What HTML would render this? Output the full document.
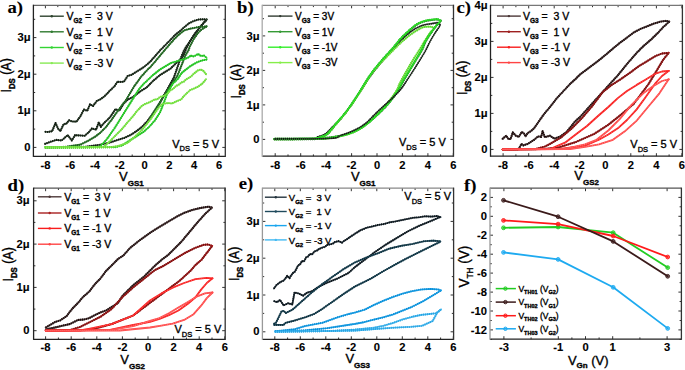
<!DOCTYPE html><html><head><meta charset="utf-8"><style>html,body{margin:0;padding:0;background:#fff;}svg{display:block;}</style></head><body>
<svg width="685" height="370" viewBox="0 0 685 370">
<style>text{stroke:#000;stroke-width:0.35px;} text[font-weight=bold]{stroke-width:0.1px;}</style>
<rect width="685" height="370" fill="#fff"/>
<path d="M45 131.8 L48 132 L52.2 131.1 L55.5 123 L58 128.5 L60.3 131.1 L63.6 124.3 L66.4 123.6 L69 120.3 L72 121.5 L76.5 121.6 L80.5 116.2 L83.9 109.5 L87.3 110.8 L90 104.3 L93 106 L96.8 101 L100 99.5 L103 97.5 L106.2 94.6 L110 90.5 L114.3 86.5 L117.5 81.6 L120 82 L124 81.6 L127.6 76.1 L131.6 74.7 L137 71.4 L144 67 L150 61.9 L160 50.5 L170.3 40 L175 35 L179.7 31.3 L184.5 27 L189.2 23.2 L193.9 20.9 L198.6 19.5 L203.4 19.2 L206.8 19.5" fill="none" stroke="#2e432e" stroke-width="1.6" stroke-linejoin="round" stroke-linecap="round" />
<path d="M45 131.8 L48 132 L52.2 131.1 L55.5 123 L58 128.5 L60.3 131.1 L63.6 124.3 L66.4 123.6 L69 120.3 L72 121.5 L76.5 121.6 L80.5 116.2 L83.9 109.5 L87.3 110.8 L90 104.3 L93 106 L96.8 101 L100 99.5 L103 97.5 L106.2 94.6 L110 90.5 L114.3 86.5 L117.5 81.6 L120 82 L124 81.6 L127.6 76.1 L131.6 74.7 L137 71.4 L144 67 L150 61.9 L160 50.5 L170.3 40 L175 35 L179.7 31.3 L184.5 27 L189.2 23.2 L193.9 20.9 L198.6 19.5 L203.4 19.2 L206.8 19.5" fill="none" stroke="#0c140c" stroke-width="2.1" stroke-dasharray="0.9 1.1" stroke-linejoin="round" />
<path d="M44.7 143.9 L50.1 141.9 L56.2 139.9 L61.6 140.5 L67.7 135.1 L71.8 140.5 L75.1 135.1 L84.6 135.8 L88.6 132.4 L92 128.4 L96.1 129.7 L98.8 122.3 L100.8 126.9 L104 123 L110 117.3 L115.4 109.2 L119.5 110.5 L123.5 103.8 L127.6 99.7 L133 97 L140 91.5 L146.5 87.6 L153.2 80.8 L160 75 L165 72 L170.8 68.4 L176.2 63 L181.6 58.6 L183.5 55.5 L186 49 L190.5 40.4 L196 32.3 L201.4 25.5 L206.8 19.4" fill="none" stroke="#2e432e" stroke-width="1.6" stroke-linejoin="round" stroke-linecap="round" />
<path d="M44.7 143.9 L50.1 141.9 L56.2 139.9 L61.6 140.5 L67.7 135.1 L71.8 140.5 L75.1 135.1 L84.6 135.8 L88.6 132.4 L92 128.4 L96.1 129.7 L98.8 122.3 L100.8 126.9 L104 123 L110 117.3 L115.4 109.2 L119.5 110.5 L123.5 103.8 L127.6 99.7 L133 97 L140 91.5 L146.5 87.6 L153.2 80.8 L160 75 L165 72 L170.8 68.4 L176.2 63 L181.6 58.6 L183.5 55.5 L186 49 L190.5 40.4 L196 32.3 L201.4 25.5 L206.8 19.4" fill="none" stroke="#0c140c" stroke-width="2.1" stroke-dasharray="0.9 1.1" stroke-linejoin="round" />
<path d="M45 147.4 L85 146.8 L100 144.8 L110 142.5 L117.5 140 L124 138 L130.5 135.1 L136 131.5 L141.9 127 L147 121.5 L151.6 115.6 L156 109 L160 102.7 L163.5 96 L167.6 89 L174.1 77 L178.9 63 L183.2 52.2 L186 47 L190.5 40.4 L196 32.3 L201.4 25.5 L206.8 19.4" fill="none" stroke="#2e432e" stroke-width="1.6" stroke-linejoin="round" stroke-linecap="round" />
<path d="M45 147.4 L85 146.8 L100 144.8 L110 142.5 L117.5 140 L124 138 L130.5 135.1 L136 131.5 L141.9 127 L147 121.5 L151.6 115.6 L156 109 L160 102.7 L163.5 96 L167.6 89 L174.1 77 L178.9 63 L183.2 52.2 L186 47 L190.5 40.4 L196 32.3 L201.4 25.5 L206.8 19.4" fill="none" stroke="#0c140c" stroke-width="2.1" stroke-dasharray="0.9 1.1" stroke-linejoin="round" />
<path d="M45 147.4 L60 147.2 L67 146.6 L80.5 144.6 L88.6 140.5 L95.4 136.5 L100 133 L106 127 L111.4 120 L118.1 110.5 L126.2 99.7 L134.3 86.2 L141.1 76.8 L147.2 70 L150 67.4 L156 60.5 L163.5 51.5 L170 44 L175 38.3 L179.7 33.8 L184.5 30.3 L189.2 28.9 L193.9 28 L198.6 27 L203.4 26.8 L206.8 26.4" fill="none" stroke="#2f7a2f" stroke-width="1.6" stroke-linejoin="round" stroke-linecap="round" />
<path d="M45 147.4 L60 147.2 L67 146.6 L80.5 144.6 L88.6 140.5 L95.4 136.5 L100 133 L106 127 L111.4 120 L118.1 110.5 L126.2 99.7 L134.3 86.2 L141.1 76.8 L147.2 70 L150 67.4 L156 60.5 L163.5 51.5 L170 44 L175 38.3 L179.7 33.8 L184.5 30.3 L189.2 28.9 L193.9 28 L198.6 27 L203.4 26.8 L206.8 26.4" fill="none" stroke="#1a561a" stroke-width="2.1" stroke-dasharray="0.9 1.1" stroke-linejoin="round" />
<path d="M150 118 L158.9 104 L164 96 L167.6 90.5 L170.8 85.7 L177.3 76 L181.6 65.1 L185.4 55.4 L188.6 50 L189.8 46.5 L194 38.5 L198 33 L201.4 29.6 L206.8 26.2" fill="none" stroke="#2f7a2f" stroke-width="1.6" stroke-linejoin="round" stroke-linecap="round" />
<path d="M150 118 L158.9 104 L164 96 L167.6 90.5 L170.8 85.7 L177.3 76 L181.6 65.1 L185.4 55.4 L188.6 50 L189.8 46.5 L194 38.5 L198 33 L201.4 29.6 L206.8 26.2" fill="none" stroke="#1a561a" stroke-width="2.1" stroke-dasharray="0.9 1.1" stroke-linejoin="round" />
<path d="M45 147.4 L96 147.2 L100 146.5 L106.2 140 L114.3 128.6 L122.4 115.6 L130.5 102.7 L138.6 89.7 L143 84.5 L148.3 79.5 L153 75 L160 69.5 L170.8 63 L176 61.5 L181.6 59.7 L185 59 L188.1 57.6 L191 55.5 L193 56.5 L195.7 55.4 L198 54 L201 56 L204 55.5 L206.8 58" fill="none" stroke="#33d433" stroke-width="1.6" stroke-linejoin="round" stroke-linecap="round" />
<path d="M45 147.4 L96 147.2 L100 146.5 L106.2 140 L114.3 128.6 L122.4 115.6 L130.5 102.7 L138.6 89.7 L143 84.5 L148.3 79.5 L153 75 L160 69.5 L170.8 63 L176 61.5 L181.6 59.7 L185 59 L188.1 57.6 L191 55.5 L193 56.5 L195.7 55.4 L198 54 L201 56 L204 55.5 L206.8 58" fill="none" stroke="#1fb81f" stroke-width="2.1" stroke-dasharray="0.9 1.1" stroke-linejoin="round" />
<path d="M45 147.4 L115 147.2 L122 145.5 L130.5 140 L137 136 L143.5 131.9 L149 127 L154.8 120.5 L160 112.4 L163 105 L165.6 98 L168 91.5 L173 83.5 L177.8 79 L181.6 73 L186 69.5 L190.3 66.2 L194 64 L197.8 61.9 L202 60.5 L206.8 59.5" fill="none" stroke="#33d433" stroke-width="1.6" stroke-linejoin="round" stroke-linecap="round" />
<path d="M45 147.4 L115 147.2 L122 145.5 L130.5 140 L137 136 L143.5 131.9 L149 127 L154.8 120.5 L160 112.4 L163 105 L165.6 98 L168 91.5 L173 83.5 L177.8 79 L181.6 73 L186 69.5 L190.3 66.2 L194 64 L197.8 61.9 L202 60.5 L206.8 59.5" fill="none" stroke="#1fb81f" stroke-width="2.1" stroke-dasharray="0.9 1.1" stroke-linejoin="round" />
<path d="M45 147.4 L100 147.3 L104 146.8 L111.1 140 L116 135 L122.4 128.6 L127 123 L132.1 117.3 L137 111 L141.9 105.9 L145 104 L148.3 102.7 L151 101.5 L154.8 99.4 L157 99.5 L160 97 L164.9 95.5 L168 93 L170.8 90 L173 89 L176 86 L179 84.5 L181.6 82.4 L184 81.5 L186 79.5 L190.3 77 L192 75.5 L194 73.5 L197.8 70.5 L200.9 69.5 L203.5 71 L206.2 74.5" fill="none" stroke="#88ea55" stroke-width="1.6" stroke-linejoin="round" stroke-linecap="round" />
<path d="M45 147.4 L100 147.3 L104 146.8 L111.1 140 L116 135 L122.4 128.6 L127 123 L132.1 117.3 L137 111 L141.9 105.9 L145 104 L148.3 102.7 L151 101.5 L154.8 99.4 L157 99.5 L160 97 L164.9 95.5 L168 93 L170.8 90 L173 89 L176 86 L179 84.5 L181.6 82.4 L184 81.5 L186 79.5 L190.3 77 L192 75.5 L194 73.5 L197.8 70.5 L200.9 69.5 L203.5 71 L206.2 74.5" fill="none" stroke="#66d633" stroke-width="2.1" stroke-dasharray="0.9 1.1" stroke-linejoin="round" />
<path d="M45 147.4 L110 147.3 L118 146 L127.5 143 L135 136.5 L141.9 130 L150 120 L158.9 107.3 L162 104 L168 103 L172 103.5 L177.8 100.7 L181 99.5 L184 96 L187 93 L190.3 90 L194 88.5 L197.8 86.8 L202.4 83.5 L206.2 79" fill="none" stroke="#88ea55" stroke-width="1.6" stroke-linejoin="round" stroke-linecap="round" />
<path d="M45 147.4 L110 147.3 L118 146 L127.5 143 L135 136.5 L141.9 130 L150 120 L158.9 107.3 L162 104 L168 103 L172 103.5 L177.8 100.7 L181 99.5 L184 96 L187 93 L190.3 90 L194 88.5 L197.8 86.8 L202.4 83.5 L206.2 79" fill="none" stroke="#66d633" stroke-width="2.1" stroke-dasharray="0.9 1.1" stroke-linejoin="round" />
<line x1="45.4" y1="156.3" x2="45.4" y2="153.3" stroke="#333" stroke-width="1"/>
<line x1="45.4" y1="5.3" x2="45.4" y2="8.3" stroke="#333" stroke-width="1"/>
<line x1="70.2" y1="156.3" x2="70.2" y2="153.3" stroke="#333" stroke-width="1"/>
<line x1="70.2" y1="5.3" x2="70.2" y2="8.3" stroke="#333" stroke-width="1"/>
<line x1="95" y1="156.3" x2="95" y2="153.3" stroke="#333" stroke-width="1"/>
<line x1="95" y1="5.3" x2="95" y2="8.3" stroke="#333" stroke-width="1"/>
<line x1="119.8" y1="156.3" x2="119.8" y2="153.3" stroke="#333" stroke-width="1"/>
<line x1="119.8" y1="5.3" x2="119.8" y2="8.3" stroke="#333" stroke-width="1"/>
<line x1="144.6" y1="156.3" x2="144.6" y2="153.3" stroke="#333" stroke-width="1"/>
<line x1="144.6" y1="5.3" x2="144.6" y2="8.3" stroke="#333" stroke-width="1"/>
<line x1="169.4" y1="156.3" x2="169.4" y2="153.3" stroke="#333" stroke-width="1"/>
<line x1="169.4" y1="5.3" x2="169.4" y2="8.3" stroke="#333" stroke-width="1"/>
<line x1="194.2" y1="156.3" x2="194.2" y2="153.3" stroke="#333" stroke-width="1"/>
<line x1="194.2" y1="5.3" x2="194.2" y2="8.3" stroke="#333" stroke-width="1"/>
<line x1="219" y1="156.3" x2="219" y2="153.3" stroke="#333" stroke-width="1"/>
<line x1="219" y1="5.3" x2="219" y2="8.3" stroke="#333" stroke-width="1"/>
<line x1="57.8" y1="156.3" x2="57.8" y2="154.5" stroke="#333" stroke-width="1"/>
<line x1="57.8" y1="5.3" x2="57.8" y2="7.1" stroke="#333" stroke-width="1"/>
<line x1="82.6" y1="156.3" x2="82.6" y2="154.5" stroke="#333" stroke-width="1"/>
<line x1="82.6" y1="5.3" x2="82.6" y2="7.1" stroke="#333" stroke-width="1"/>
<line x1="107.4" y1="156.3" x2="107.4" y2="154.5" stroke="#333" stroke-width="1"/>
<line x1="107.4" y1="5.3" x2="107.4" y2="7.1" stroke="#333" stroke-width="1"/>
<line x1="132.2" y1="156.3" x2="132.2" y2="154.5" stroke="#333" stroke-width="1"/>
<line x1="132.2" y1="5.3" x2="132.2" y2="7.1" stroke="#333" stroke-width="1"/>
<line x1="157" y1="156.3" x2="157" y2="154.5" stroke="#333" stroke-width="1"/>
<line x1="157" y1="5.3" x2="157" y2="7.1" stroke="#333" stroke-width="1"/>
<line x1="181.8" y1="156.3" x2="181.8" y2="154.5" stroke="#333" stroke-width="1"/>
<line x1="181.8" y1="5.3" x2="181.8" y2="7.1" stroke="#333" stroke-width="1"/>
<line x1="206.6" y1="156.3" x2="206.6" y2="154.5" stroke="#333" stroke-width="1"/>
<line x1="206.6" y1="5.3" x2="206.6" y2="7.1" stroke="#333" stroke-width="1"/>
<line x1="33.4" y1="147.4" x2="36.4" y2="147.4" stroke="#333" stroke-width="1"/>
<line x1="225.3" y1="147.4" x2="222.3" y2="147.4" stroke="#333" stroke-width="1"/>
<line x1="33.4" y1="110.8" x2="36.4" y2="110.8" stroke="#333" stroke-width="1"/>
<line x1="225.3" y1="110.8" x2="222.3" y2="110.8" stroke="#333" stroke-width="1"/>
<line x1="33.4" y1="74.2" x2="36.4" y2="74.2" stroke="#333" stroke-width="1"/>
<line x1="225.3" y1="74.2" x2="222.3" y2="74.2" stroke="#333" stroke-width="1"/>
<line x1="33.4" y1="37.6" x2="36.4" y2="37.6" stroke="#333" stroke-width="1"/>
<line x1="225.3" y1="37.6" x2="222.3" y2="37.6" stroke="#333" stroke-width="1"/>
<line x1="33.4" y1="129.1" x2="35.2" y2="129.1" stroke="#333" stroke-width="1"/>
<line x1="225.3" y1="129.1" x2="223.5" y2="129.1" stroke="#333" stroke-width="1"/>
<line x1="33.4" y1="92.5" x2="35.2" y2="92.5" stroke="#333" stroke-width="1"/>
<line x1="225.3" y1="92.5" x2="223.5" y2="92.5" stroke="#333" stroke-width="1"/>
<line x1="33.4" y1="55.9" x2="35.2" y2="55.9" stroke="#333" stroke-width="1"/>
<line x1="225.3" y1="55.9" x2="223.5" y2="55.9" stroke="#333" stroke-width="1"/>
<line x1="33.4" y1="19.3" x2="35.2" y2="19.3" stroke="#333" stroke-width="1"/>
<line x1="225.3" y1="19.3" x2="223.5" y2="19.3" stroke="#333" stroke-width="1"/>
<line x1="33.4" y1="5.3" x2="225.3" y2="5.3" stroke="#666" stroke-width="1.3"/>
<line x1="33.4" y1="156.3" x2="225.3" y2="156.3" stroke="#222" stroke-width="1.3"/>
<line x1="33.4" y1="4.7" x2="33.4" y2="156.9" stroke="#222" stroke-width="1.3"/>
<line x1="225.3" y1="4.7" x2="225.3" y2="156.9" stroke="#333" stroke-width="1.3"/>
<g transform="translate(45.4,168.6) scale(1.12,1)">
<text x="0" y="0" font-family='"Liberation Sans", sans-serif' font-size="10" font-weight="bold" text-anchor="middle" fill="#000" >-8</text>
</g>
<g transform="translate(70.2,168.6) scale(1.12,1)">
<text x="0" y="0" font-family='"Liberation Sans", sans-serif' font-size="10" font-weight="bold" text-anchor="middle" fill="#000" >-6</text>
</g>
<g transform="translate(95,168.6) scale(1.12,1)">
<text x="0" y="0" font-family='"Liberation Sans", sans-serif' font-size="10" font-weight="bold" text-anchor="middle" fill="#000" >-4</text>
</g>
<g transform="translate(119.8,168.6) scale(1.12,1)">
<text x="0" y="0" font-family='"Liberation Sans", sans-serif' font-size="10" font-weight="bold" text-anchor="middle" fill="#000" >-2</text>
</g>
<g transform="translate(144.6,168.6) scale(1.12,1)">
<text x="0" y="0" font-family='"Liberation Sans", sans-serif' font-size="10" font-weight="bold" text-anchor="middle" fill="#000" >0</text>
</g>
<g transform="translate(169.4,168.6) scale(1.12,1)">
<text x="0" y="0" font-family='"Liberation Sans", sans-serif' font-size="10" font-weight="bold" text-anchor="middle" fill="#000" >2</text>
</g>
<g transform="translate(194.2,168.6) scale(1.12,1)">
<text x="0" y="0" font-family='"Liberation Sans", sans-serif' font-size="10" font-weight="bold" text-anchor="middle" fill="#000" >4</text>
</g>
<g transform="translate(219,168.6) scale(1.12,1)">
<text x="0" y="0" font-family='"Liberation Sans", sans-serif' font-size="10" font-weight="bold" text-anchor="middle" fill="#000" >6</text>
</g>
<g transform="translate(30.6,151) scale(1.12,1)">
<text x="0" y="0" font-family='"Liberation Sans", sans-serif' font-size="10" font-weight="bold" text-anchor="end" fill="#000" >0</text>
</g>
<g transform="translate(30.6,114.4) scale(1.12,1)">
<text x="0" y="0" font-family='"Liberation Sans", sans-serif' font-size="10" font-weight="bold" text-anchor="end" fill="#000" >1&#956;</text>
</g>
<g transform="translate(30.6,77.8) scale(1.12,1)">
<text x="0" y="0" font-family='"Liberation Sans", sans-serif' font-size="10" font-weight="bold" text-anchor="end" fill="#000" >2&#956;</text>
</g>
<g transform="translate(30.6,41.2) scale(1.12,1)">
<text x="0" y="0" font-family='"Liberation Sans", sans-serif' font-size="10" font-weight="bold" text-anchor="end" fill="#000" >3&#956;</text>
</g>
<line x1="39.8" y1="16.2" x2="63.8" y2="16.2" stroke="#2e432e" stroke-width="1.4"/>
<circle cx="51.8" cy="16.2" r="1.2" fill="#2e432e"/>
<text x="66.4" y="20" font-family='"Liberation Sans", sans-serif' font-size="10.5" xml:space="preserve">V<tspan font-size="6.5" font-weight="bold" dy="3">G2</tspan><tspan dy="-3"> =  3 V</tspan></text>
<line x1="39.8" y1="31.8" x2="63.8" y2="31.8" stroke="#2f7a2f" stroke-width="1.4"/>
<circle cx="51.8" cy="31.8" r="1.2" fill="#2f7a2f"/>
<text x="66.4" y="35.6" font-family='"Liberation Sans", sans-serif' font-size="10.5" xml:space="preserve">V<tspan font-size="6.5" font-weight="bold" dy="3">G2</tspan><tspan dy="-3"> =  1 V</tspan></text>
<line x1="39.8" y1="47.5" x2="63.8" y2="47.5" stroke="#33d433" stroke-width="1.4"/>
<circle cx="51.8" cy="47.5" r="1.2" fill="#33d433"/>
<text x="66.4" y="51.3" font-family='"Liberation Sans", sans-serif' font-size="10.5" xml:space="preserve">V<tspan font-size="6.5" font-weight="bold" dy="3">G2</tspan><tspan dy="-3"> = -1 V</tspan></text>
<line x1="39.8" y1="63.1" x2="63.8" y2="63.1" stroke="#88ea55" stroke-width="1.4"/>
<circle cx="51.8" cy="63.1" r="1.2" fill="#88ea55"/>
<text x="66.4" y="66.9" font-family='"Liberation Sans", sans-serif' font-size="10.5" xml:space="preserve">V<tspan font-size="6.5" font-weight="bold" dy="3">G2</tspan><tspan dy="-3"> = -3 V</tspan></text>
<text x="172.2" y="147.6" font-family='"Liberation Sans", sans-serif' font-size="11" xml:space="preserve">V<tspan font-size="7.5" dy="3.8">DS</tspan><tspan dy="-3.8"> = 5 V</tspan></text>
<text x="119" y="180.7" font-family='"Liberation Sans", sans-serif' font-size="13">V<tspan font-size="8" font-weight="bold" dy="5">GS1</tspan></text>
<g transform="translate(10.8,92.5) rotate(-90) scale(1,1.15)">
<text x="0" y="0" font-family='"Liberation Sans", sans-serif' font-size="12.5">I<tspan font-size="7.75" font-weight="bold" dy="3.3">DS</tspan><tspan dy="-3.3" xml:space="preserve"> (A)</tspan></text>
</g>
<g transform="translate(7.5,12.8) scale(1.1,1)">
<text x="0" y="0" font-family='"Liberation Serif", serif' font-size="17" font-weight="bold" text-anchor="start" fill="#000" >a)</text>
</g>
<path d="M274 139 C280.3 139 304.7 139.2 312 138.8 C319.3 138.5 315.5 137.8 317.8 136.9 C320.1 136 323.5 135.2 325.9 133.6 C328.3 132 330 129.5 332.4 127.1 C334.8 124.7 338.2 121.5 340.5 119 C342.8 116.5 343.8 114.9 346 112 C348.2 109.1 350.8 105.8 353.5 101.8 C356.2 97.8 359.5 92.5 362.5 88 C365.5 83.5 368.3 78.8 371.5 74.5 C374.7 70.2 378.1 66.1 381.6 62 C385.1 57.9 389.3 53.5 392.4 50 C395.5 46.5 396.9 44.4 400 41.3 C403.1 38.2 407.2 34.2 410.8 31.6 C414.4 29 418 27.1 421.6 25.7 C425.2 24.3 429.7 24 432.4 23.5 C435.1 23 436.5 22.6 437.8 22.8 C439.1 23 439.6 24.2 440 24.5" fill="none" stroke="#333d33" stroke-width="1.4" stroke-linejoin="round" stroke-linecap="round" />
<path d="M274 139 C280.3 139 304.7 139.2 312 138.8 C319.3 138.5 315.5 137.8 317.8 136.9 C320.1 136 323.5 135.2 325.9 133.6 C328.3 132 330 129.5 332.4 127.1 C334.8 124.7 338.2 121.5 340.5 119 C342.8 116.5 343.8 114.9 346 112 C348.2 109.1 350.8 105.8 353.5 101.8 C356.2 97.8 359.5 92.5 362.5 88 C365.5 83.5 368.3 78.8 371.5 74.5 C374.7 70.2 378.1 66.1 381.6 62 C385.1 57.9 389.3 53.5 392.4 50 C395.5 46.5 396.9 44.4 400 41.3 C403.1 38.2 407.2 34.2 410.8 31.6 C414.4 29 418 27.1 421.6 25.7 C425.2 24.3 429.7 24 432.4 23.5 C435.1 23 436.5 22.6 437.8 22.8 C439.1 23 439.6 24.2 440 24.5" fill="none" stroke="#0a140a" stroke-width="1.8" stroke-dasharray="0.9 1.1" stroke-linejoin="round" />
<path d="M274 139.4 C280 139.4 303 139.3 310 139.2 C317 139.1 314 139.2 316 138.8 C318 138.4 320.1 137.7 322 136.9 C323.9 136.1 325.3 136.1 327.6 134 C329.9 131.9 332.7 127.9 335.7 124.4 C338.7 120.9 342.4 116.8 345.4 113 C348.4 109.2 350.6 105.9 353.5 101.6 C356.4 97.3 359.5 92.1 362.5 87.4 C365.5 82.7 368.3 77.8 371.5 73.4 C374.7 69 378.1 65 381.6 60.9 C385.1 56.8 389.3 52.4 392.4 48.9 C395.5 45.4 397.8 42.1 400 39.6 C402.2 37.1 403.6 35.9 405.4 34.2 C407.2 32.5 409 30.8 410.8 29.3 C412.6 27.8 414.4 26.2 416.2 25 C418 23.8 419.8 23 421.6 22.3 C423.4 21.6 425.2 21.1 427 20.7 C428.8 20.3 430.6 20.1 432.4 19.9 C434.2 19.7 436.4 19.4 437.8 19.6 C439.2 19.8 440.1 20.9 440.5 21.2" fill="none" stroke="#359a35" stroke-width="1.6" stroke-linejoin="round" stroke-linecap="round" />
<path d="M274 139.4 C280 139.4 303 139.3 310 139.2 C317 139.1 314 139.2 316 138.8 C318 138.4 320.1 137.7 322 136.9 C323.9 136.1 325.3 136.1 327.6 134 C329.9 131.9 332.7 127.9 335.7 124.4 C338.7 120.9 342.4 116.8 345.4 113 C348.4 109.2 350.6 105.9 353.5 101.6 C356.4 97.3 359.5 92.1 362.5 87.4 C365.5 82.7 368.3 77.8 371.5 73.4 C374.7 69 378.1 65 381.6 60.9 C385.1 56.8 389.3 52.4 392.4 48.9 C395.5 45.4 397.8 42.1 400 39.6 C402.2 37.1 403.6 35.9 405.4 34.2 C407.2 32.5 409 30.8 410.8 29.3 C412.6 27.8 414.4 26.2 416.2 25 C418 23.8 419.8 23 421.6 22.3 C423.4 21.6 425.2 21.1 427 20.7 C428.8 20.3 430.6 20.1 432.4 19.9 C434.2 19.7 436.4 19.4 437.8 19.6 C439.2 19.8 440.1 20.9 440.5 21.2" fill="none" stroke="#1a661a" stroke-width="2.1" stroke-dasharray="0.9 1.1" stroke-linejoin="round" />
<path d="M441.1 20.4 C440.7 20.9 439.4 22.7 438.6 23.6 C437.8 24.5 437.6 24.1 436.3 25.8 C435 27.5 432.4 31 430.6 33.6 C428.8 36.2 427 38.9 425.6 41.6 C424.2 44.3 423.7 46.8 422.2 49.6 C420.7 52.4 418.9 55.1 416.8 58.6 C414.7 62.1 411.8 66.9 409.6 70.6 C407.4 74.3 405.5 77.3 403.6 80.6 C401.7 83.9 400.7 86.7 398.1 90.6 C395.5 94.5 391.7 99.9 388.1 104 C384.6 108.1 380.6 111.9 376.8 115.4 C373 118.9 369.2 122.4 365.4 125.1 C361.6 127.8 358.2 129.8 354.1 131.6 C350.1 133.3 346 134.5 341.1 135.6 C336.2 136.7 328.7 137.6 324.9 138.1 C321.2 138.6 327 138.3 318.6 138.4 C310.2 138.5 281.9 138.6 274.6 138.6" fill="none" stroke="#359a35" stroke-width="1.6" stroke-linejoin="round" stroke-linecap="round" />
<path d="M441.1 20.4 C440.7 20.9 439.4 22.7 438.6 23.6 C437.8 24.5 437.6 24.1 436.3 25.8 C435 27.5 432.4 31 430.6 33.6 C428.8 36.2 427 38.9 425.6 41.6 C424.2 44.3 423.7 46.8 422.2 49.6 C420.7 52.4 418.9 55.1 416.8 58.6 C414.7 62.1 411.8 66.9 409.6 70.6 C407.4 74.3 405.5 77.3 403.6 80.6 C401.7 83.9 400.7 86.7 398.1 90.6 C395.5 94.5 391.7 99.9 388.1 104 C384.6 108.1 380.6 111.9 376.8 115.4 C373 118.9 369.2 122.4 365.4 125.1 C361.6 127.8 358.2 129.8 354.1 131.6 C350.1 133.3 346 134.5 341.1 135.6 C336.2 136.7 328.7 137.6 324.9 138.1 C321.2 138.6 327 138.3 318.6 138.4 C310.2 138.5 281.9 138.6 274.6 138.6" fill="none" stroke="#1a661a" stroke-width="2.1" stroke-dasharray="0.9 1.1" stroke-linejoin="round" />
<path d="M274 139.2 C280 139.2 303 139.1 310 139 C317 138.9 314 139 316 138.6 C318 138.2 320.1 137.6 322 136.8 C323.9 136 325.3 136.1 327.6 134 C329.9 131.9 332.7 128 335.7 124.5 C338.7 121 342.4 117 345.4 113.2 C348.4 109.5 350.6 106.2 353.5 102 C356.4 97.8 359.5 92.7 362.5 88 C365.5 83.3 368.3 78.3 371.5 74 C374.7 69.7 378.1 65.8 381.6 62 C385.1 58.2 389.3 54.1 392.4 51 C395.5 47.9 396.9 46.3 400 43.5 C403.1 40.7 407.2 36.9 410.8 34.3 C414.4 31.7 419.1 29.1 421.6 27.8 C424.1 26.6 424.6 27 426 26.8 C427.4 26.6 428.9 26.5 430.3 26.7 C431.7 26.9 433.9 27.6 434.6 27.8" fill="none" stroke="#86ee4a" stroke-width="1.6" stroke-linejoin="round" stroke-linecap="round" />
<path d="M274 139.2 C280 139.2 303 139.1 310 139 C317 138.9 314 139 316 138.6 C318 138.2 320.1 137.6 322 136.8 C323.9 136 325.3 136.1 327.6 134 C329.9 131.9 332.7 128 335.7 124.5 C338.7 121 342.4 117 345.4 113.2 C348.4 109.5 350.6 106.2 353.5 102 C356.4 97.8 359.5 92.7 362.5 88 C365.5 83.3 368.3 78.3 371.5 74 C374.7 69.7 378.1 65.8 381.6 62 C385.1 58.2 389.3 54.1 392.4 51 C395.5 47.9 396.9 46.3 400 43.5 C403.1 40.7 407.2 36.9 410.8 34.3 C414.4 31.7 419.1 29.1 421.6 27.8 C424.1 26.6 424.6 27 426 26.8 C427.4 26.6 428.9 26.5 430.3 26.7 C431.7 26.9 433.9 27.6 434.6 27.8" fill="none" stroke="#4cc82a" stroke-width="2.1" stroke-dasharray="0.9 1.1" stroke-linejoin="round" />
<path d="M434.6 27.8 C433.8 28.7 431.6 30.9 430 33 C428.4 35.1 426.8 37.7 425 40.5 C423.2 43.3 421.4 46.8 419.4 50 C417.4 53.2 415.2 56.3 413 60 C410.8 63.7 408.2 68.2 406 72 C403.8 75.8 401.7 79.8 400 83 C398.3 86.2 398.2 88 396 91.5 C393.8 95 390.3 99.8 387 103.8 C383.7 107.8 379.7 111.9 376 115.5 C372.3 119.1 368.6 122.7 364.8 125.5 C361.1 128.3 357.6 130.4 353.5 132.2 C349.4 134 345.4 135.2 340.5 136.3 C335.6 137.4 335.4 138.1 324.3 138.6 C313.2 139.1 282.4 139.1 274 139.2" fill="none" stroke="#86ee4a" stroke-width="1.6" stroke-linejoin="round" stroke-linecap="round" />
<path d="M434.6 27.8 C433.8 28.7 431.6 30.9 430 33 C428.4 35.1 426.8 37.7 425 40.5 C423.2 43.3 421.4 46.8 419.4 50 C417.4 53.2 415.2 56.3 413 60 C410.8 63.7 408.2 68.2 406 72 C403.8 75.8 401.7 79.8 400 83 C398.3 86.2 398.2 88 396 91.5 C393.8 95 390.3 99.8 387 103.8 C383.7 107.8 379.7 111.9 376 115.5 C372.3 119.1 368.6 122.7 364.8 125.5 C361.1 128.3 357.6 130.4 353.5 132.2 C349.4 134 345.4 135.2 340.5 136.3 C335.6 137.4 335.4 138.1 324.3 138.6 C313.2 139.1 282.4 139.1 274 139.2" fill="none" stroke="#4cc82a" stroke-width="2.1" stroke-dasharray="0.9 1.1" stroke-linejoin="round" />
<path d="M274 139 C280 139 303 138.9 310 138.8 C317 138.7 314 138.8 316 138.4 C318 138 320.1 137.3 322 136.5 C323.9 135.7 325.3 135.7 327.6 133.6 C329.9 131.5 332.7 127.5 335.7 124 C338.7 120.5 342.4 116.4 345.4 112.6 C348.4 108.8 350.6 105.5 353.5 101.2 C356.4 96.9 359.5 91.7 362.5 87 C365.5 82.3 368.3 77.4 371.5 73 C374.7 68.6 378.1 64.6 381.6 60.5 C385.1 56.4 389.3 52 392.4 48.5 C395.5 45 397.8 41.7 400 39.2 C402.2 36.8 403.6 35.5 405.4 33.8 C407.2 32.1 409 30.4 410.8 28.9 C412.6 27.4 414.4 25.8 416.2 24.6 C418 23.4 419.8 22.6 421.6 21.9 C423.4 21.2 425.2 20.7 427 20.3 C428.8 19.9 430.6 19.7 432.4 19.5 C434.2 19.3 436.4 19 437.8 19.2 C439.2 19.4 440.1 20.5 440.5 20.8" fill="none" stroke="#33ee2a" stroke-width="1.6" stroke-linejoin="round" stroke-linecap="round" />
<path d="M274 139 C280 139 303 138.9 310 138.8 C317 138.7 314 138.8 316 138.4 C318 138 320.1 137.3 322 136.5 C323.9 135.7 325.3 135.7 327.6 133.6 C329.9 131.5 332.7 127.5 335.7 124 C338.7 120.5 342.4 116.4 345.4 112.6 C348.4 108.8 350.6 105.5 353.5 101.2 C356.4 96.9 359.5 91.7 362.5 87 C365.5 82.3 368.3 77.4 371.5 73 C374.7 68.6 378.1 64.6 381.6 60.5 C385.1 56.4 389.3 52 392.4 48.5 C395.5 45 397.8 41.7 400 39.2 C402.2 36.8 403.6 35.5 405.4 33.8 C407.2 32.1 409 30.4 410.8 28.9 C412.6 27.4 414.4 25.8 416.2 24.6 C418 23.4 419.8 22.6 421.6 21.9 C423.4 21.2 425.2 20.7 427 20.3 C428.8 19.9 430.6 19.7 432.4 19.5 C434.2 19.3 436.4 19 437.8 19.2 C439.2 19.4 440.1 20.5 440.5 20.8" fill="none" stroke="#22bb22" stroke-width="2.1" stroke-dasharray="0.9 1.1" stroke-linejoin="round" />
<path d="M440.5 20.8 C440.1 21.3 438.8 23.1 438 24 C437.2 24.9 437 24.5 435.7 26.2 C434.4 27.9 431.8 31.4 430 34 C428.2 36.6 426.4 39.3 425 42 C423.6 44.7 423.1 47.2 421.6 50 C420.1 52.8 418.3 55.5 416.2 59 C414.1 62.5 411.2 67.3 409 71 C406.8 74.7 404.9 77.7 403 81 C401.1 84.3 400.1 87.1 397.5 91 C394.9 94.9 391.1 100.3 387.5 104.4 C383.9 108.5 380 112.3 376.2 115.8 C372.4 119.3 368.6 122.8 364.8 125.5 C361 128.2 357.6 130.2 353.5 132 C349.4 133.8 345.4 134.9 340.5 136 C335.6 137.1 328.1 138 324.3 138.5 C320.6 139 326.4 138.7 318 138.8 C309.6 138.9 281.3 139 274 139" fill="none" stroke="#33ee2a" stroke-width="1.6" stroke-linejoin="round" stroke-linecap="round" />
<path d="M440.5 20.8 C440.1 21.3 438.8 23.1 438 24 C437.2 24.9 437 24.5 435.7 26.2 C434.4 27.9 431.8 31.4 430 34 C428.2 36.6 426.4 39.3 425 42 C423.6 44.7 423.1 47.2 421.6 50 C420.1 52.8 418.3 55.5 416.2 59 C414.1 62.5 411.2 67.3 409 71 C406.8 74.7 404.9 77.7 403 81 C401.1 84.3 400.1 87.1 397.5 91 C394.9 94.9 391.1 100.3 387.5 104.4 C383.9 108.5 380 112.3 376.2 115.8 C372.4 119.3 368.6 122.8 364.8 125.5 C361 128.2 357.6 130.2 353.5 132 C349.4 133.8 345.4 134.9 340.5 136 C335.6 137.1 328.1 138 324.3 138.5 C320.6 139 326.4 138.7 318 138.8 C309.6 138.9 281.3 139 274 139" fill="none" stroke="#22bb22" stroke-width="2.1" stroke-dasharray="0.9 1.1" stroke-linejoin="round" />
<path d="M440 24.5 C439.9 24.9 440.2 25.3 439.4 26.7 C438.6 28.1 436.6 30.5 435 33 C433.4 35.5 431.5 38.7 430 41.5 C428.5 44.3 427.6 46.9 425.9 50 C424.2 53.1 422.1 56.5 420 60 C417.9 63.5 415.2 67.5 413 71 C410.8 74.5 408.5 78 406.5 81 C404.5 84 402.9 86.6 401 89 C399.1 91.4 397.2 93.2 395 95.5 C392.8 97.8 390.6 99.6 387.5 102.5 C384.4 105.4 380 109.4 376.2 113 C372.4 116.6 368.6 121.1 364.8 124 C361 126.9 357.6 128.7 353.5 130.6 C349.4 132.5 344.4 134.2 340.5 135.5 C336.6 136.8 341.1 137.8 330 138.4 C318.9 139 283.3 138.9 274 139" fill="none" stroke="#333d33" stroke-width="1.3" stroke-linejoin="round" stroke-linecap="round" />
<path d="M440 24.5 C439.9 24.9 440.2 25.3 439.4 26.7 C438.6 28.1 436.6 30.5 435 33 C433.4 35.5 431.5 38.7 430 41.5 C428.5 44.3 427.6 46.9 425.9 50 C424.2 53.1 422.1 56.5 420 60 C417.9 63.5 415.2 67.5 413 71 C410.8 74.5 408.5 78 406.5 81 C404.5 84 402.9 86.6 401 89 C399.1 91.4 397.2 93.2 395 95.5 C392.8 97.8 390.6 99.6 387.5 102.5 C384.4 105.4 380 109.4 376.2 113 C372.4 116.6 368.6 121.1 364.8 124 C361 126.9 357.6 128.7 353.5 130.6 C349.4 132.5 344.4 134.2 340.5 135.5 C336.6 136.8 341.1 137.8 330 138.4 C318.9 139 283.3 138.9 274 139" fill="none" stroke="#0a140a" stroke-width="1.7" stroke-dasharray="0.9 1.1" stroke-linejoin="round" />
<line x1="275.2" y1="156.2" x2="275.2" y2="153.2" stroke="#333" stroke-width="1"/>
<line x1="275.2" y1="5.3" x2="275.2" y2="8.3" stroke="#333" stroke-width="1"/>
<line x1="300.7" y1="156.2" x2="300.7" y2="153.2" stroke="#333" stroke-width="1"/>
<line x1="300.7" y1="5.3" x2="300.7" y2="8.3" stroke="#333" stroke-width="1"/>
<line x1="326.1" y1="156.2" x2="326.1" y2="153.2" stroke="#333" stroke-width="1"/>
<line x1="326.1" y1="5.3" x2="326.1" y2="8.3" stroke="#333" stroke-width="1"/>
<line x1="351.6" y1="156.2" x2="351.6" y2="153.2" stroke="#333" stroke-width="1"/>
<line x1="351.6" y1="5.3" x2="351.6" y2="8.3" stroke="#333" stroke-width="1"/>
<line x1="377" y1="156.2" x2="377" y2="153.2" stroke="#333" stroke-width="1"/>
<line x1="377" y1="5.3" x2="377" y2="8.3" stroke="#333" stroke-width="1"/>
<line x1="402.4" y1="156.2" x2="402.4" y2="153.2" stroke="#333" stroke-width="1"/>
<line x1="402.4" y1="5.3" x2="402.4" y2="8.3" stroke="#333" stroke-width="1"/>
<line x1="427.9" y1="156.2" x2="427.9" y2="153.2" stroke="#333" stroke-width="1"/>
<line x1="427.9" y1="5.3" x2="427.9" y2="8.3" stroke="#333" stroke-width="1"/>
<line x1="453.3" y1="156.2" x2="453.3" y2="153.2" stroke="#333" stroke-width="1"/>
<line x1="453.3" y1="5.3" x2="453.3" y2="8.3" stroke="#333" stroke-width="1"/>
<line x1="288" y1="156.2" x2="288" y2="154.4" stroke="#333" stroke-width="1"/>
<line x1="288" y1="5.3" x2="288" y2="7.1" stroke="#333" stroke-width="1"/>
<line x1="313.4" y1="156.2" x2="313.4" y2="154.4" stroke="#333" stroke-width="1"/>
<line x1="313.4" y1="5.3" x2="313.4" y2="7.1" stroke="#333" stroke-width="1"/>
<line x1="338.8" y1="156.2" x2="338.8" y2="154.4" stroke="#333" stroke-width="1"/>
<line x1="338.8" y1="5.3" x2="338.8" y2="7.1" stroke="#333" stroke-width="1"/>
<line x1="364.3" y1="156.2" x2="364.3" y2="154.4" stroke="#333" stroke-width="1"/>
<line x1="364.3" y1="5.3" x2="364.3" y2="7.1" stroke="#333" stroke-width="1"/>
<line x1="389.7" y1="156.2" x2="389.7" y2="154.4" stroke="#333" stroke-width="1"/>
<line x1="389.7" y1="5.3" x2="389.7" y2="7.1" stroke="#333" stroke-width="1"/>
<line x1="415.2" y1="156.2" x2="415.2" y2="154.4" stroke="#333" stroke-width="1"/>
<line x1="415.2" y1="5.3" x2="415.2" y2="7.1" stroke="#333" stroke-width="1"/>
<line x1="440.6" y1="156.2" x2="440.6" y2="154.4" stroke="#333" stroke-width="1"/>
<line x1="440.6" y1="5.3" x2="440.6" y2="7.1" stroke="#333" stroke-width="1"/>
<line x1="262.2" y1="139.4" x2="265.2" y2="139.4" stroke="#333" stroke-width="1"/>
<line x1="453.5" y1="139.4" x2="450.5" y2="139.4" stroke="#333" stroke-width="1"/>
<line x1="262.2" y1="104.9" x2="265.2" y2="104.9" stroke="#333" stroke-width="1"/>
<line x1="453.5" y1="104.9" x2="450.5" y2="104.9" stroke="#333" stroke-width="1"/>
<line x1="262.2" y1="70.4" x2="265.2" y2="70.4" stroke="#333" stroke-width="1"/>
<line x1="453.5" y1="70.4" x2="450.5" y2="70.4" stroke="#333" stroke-width="1"/>
<line x1="262.2" y1="35.9" x2="265.2" y2="35.9" stroke="#333" stroke-width="1"/>
<line x1="453.5" y1="35.9" x2="450.5" y2="35.9" stroke="#333" stroke-width="1"/>
<line x1="262.2" y1="122.2" x2="264" y2="122.2" stroke="#333" stroke-width="1"/>
<line x1="453.5" y1="122.2" x2="451.7" y2="122.2" stroke="#333" stroke-width="1"/>
<line x1="262.2" y1="87.7" x2="264" y2="87.7" stroke="#333" stroke-width="1"/>
<line x1="453.5" y1="87.7" x2="451.7" y2="87.7" stroke="#333" stroke-width="1"/>
<line x1="262.2" y1="53.2" x2="264" y2="53.2" stroke="#333" stroke-width="1"/>
<line x1="453.5" y1="53.2" x2="451.7" y2="53.2" stroke="#333" stroke-width="1"/>
<line x1="262.2" y1="18.7" x2="264" y2="18.7" stroke="#333" stroke-width="1"/>
<line x1="453.5" y1="18.7" x2="451.7" y2="18.7" stroke="#333" stroke-width="1"/>
<line x1="262.2" y1="5.3" x2="453.5" y2="5.3" stroke="#888" stroke-width="1.3"/>
<line x1="262.2" y1="156.2" x2="453.5" y2="156.2" stroke="#222" stroke-width="1.3"/>
<line x1="262.2" y1="4.7" x2="262.2" y2="156.79999999999998" stroke="#aaa" stroke-width="1.3"/>
<line x1="453.5" y1="4.7" x2="453.5" y2="156.79999999999998" stroke="#333" stroke-width="1.3"/>
<g transform="translate(275.2,168.6) scale(1.12,1)">
<text x="0" y="0" font-family='"Liberation Sans", sans-serif' font-size="10" font-weight="bold" text-anchor="middle" fill="#000" >-8</text>
</g>
<g transform="translate(300.7,168.6) scale(1.12,1)">
<text x="0" y="0" font-family='"Liberation Sans", sans-serif' font-size="10" font-weight="bold" text-anchor="middle" fill="#000" >-6</text>
</g>
<g transform="translate(326.1,168.6) scale(1.12,1)">
<text x="0" y="0" font-family='"Liberation Sans", sans-serif' font-size="10" font-weight="bold" text-anchor="middle" fill="#000" >-4</text>
</g>
<g transform="translate(351.6,168.6) scale(1.12,1)">
<text x="0" y="0" font-family='"Liberation Sans", sans-serif' font-size="10" font-weight="bold" text-anchor="middle" fill="#000" >-2</text>
</g>
<g transform="translate(377,168.6) scale(1.12,1)">
<text x="0" y="0" font-family='"Liberation Sans", sans-serif' font-size="10" font-weight="bold" text-anchor="middle" fill="#000" >0</text>
</g>
<g transform="translate(402.4,168.6) scale(1.12,1)">
<text x="0" y="0" font-family='"Liberation Sans", sans-serif' font-size="10" font-weight="bold" text-anchor="middle" fill="#000" >2</text>
</g>
<g transform="translate(427.9,168.6) scale(1.12,1)">
<text x="0" y="0" font-family='"Liberation Sans", sans-serif' font-size="10" font-weight="bold" text-anchor="middle" fill="#000" >4</text>
</g>
<g transform="translate(453.3,168.6) scale(1.12,1)">
<text x="0" y="0" font-family='"Liberation Sans", sans-serif' font-size="10" font-weight="bold" text-anchor="middle" fill="#000" >6</text>
</g>
<g transform="translate(259.5,143) scale(1.12,1)">
<text x="0" y="0" font-family='"Liberation Sans", sans-serif' font-size="10" font-weight="bold" text-anchor="end" fill="#000" >0</text>
</g>
<g transform="translate(259.5,108.5) scale(1.12,1)">
<text x="0" y="0" font-family='"Liberation Sans", sans-serif' font-size="10" font-weight="bold" text-anchor="end" fill="#000" >1&#956;</text>
</g>
<g transform="translate(259.5,74) scale(1.12,1)">
<text x="0" y="0" font-family='"Liberation Sans", sans-serif' font-size="10" font-weight="bold" text-anchor="end" fill="#000" >2&#956;</text>
</g>
<g transform="translate(259.5,39.5) scale(1.12,1)">
<text x="0" y="0" font-family='"Liberation Sans", sans-serif' font-size="10" font-weight="bold" text-anchor="end" fill="#000" >3&#956;</text>
</g>
<line x1="267.9" y1="16.1" x2="292.5" y2="16.1" stroke="#333d33" stroke-width="1.4"/>
<circle cx="280.2" cy="16.1" r="1.2" fill="#333d33"/>
<text x="295.1" y="19.9" font-family='"Liberation Sans", sans-serif' font-size="10" xml:space="preserve">V<tspan font-size="6.5" font-weight="bold" dy="3">G3</tspan><tspan dy="-3"> = 3V</tspan></text>
<line x1="267.9" y1="31.7" x2="292.5" y2="31.7" stroke="#359a35" stroke-width="1.4"/>
<circle cx="280.2" cy="31.7" r="1.2" fill="#359a35"/>
<text x="295.1" y="35.5" font-family='"Liberation Sans", sans-serif' font-size="10" xml:space="preserve">V<tspan font-size="6.5" font-weight="bold" dy="3">G3</tspan><tspan dy="-3"> = 1V</tspan></text>
<line x1="267.9" y1="47.2" x2="292.5" y2="47.2" stroke="#33ee2a" stroke-width="1.4"/>
<circle cx="280.2" cy="47.2" r="1.2" fill="#33ee2a"/>
<text x="295.1" y="51" font-family='"Liberation Sans", sans-serif' font-size="10" xml:space="preserve">V<tspan font-size="6.5" font-weight="bold" dy="3">G3</tspan><tspan dy="-3"> = -1V</tspan></text>
<line x1="267.9" y1="62.6" x2="292.5" y2="62.6" stroke="#86ee4a" stroke-width="1.4"/>
<circle cx="280.2" cy="62.6" r="1.2" fill="#86ee4a"/>
<text x="295.1" y="66.4" font-family='"Liberation Sans", sans-serif' font-size="10" xml:space="preserve">V<tspan font-size="6.5" font-weight="bold" dy="3">G3</tspan><tspan dy="-3"> = -3V</tspan></text>
<text x="399" y="146" font-family='"Liberation Sans", sans-serif' font-size="11" xml:space="preserve">V<tspan font-size="7.5" dy="3.8">DS</tspan><tspan dy="-3.8"> = 5 V</tspan></text>
<text x="350.9" y="180.5" font-family='"Liberation Sans", sans-serif' font-size="13">V<tspan font-size="8" font-weight="bold" dy="5">GS1</tspan></text>
<g transform="translate(241.4,98.5) rotate(-90) scale(1,1.15)">
<text x="0" y="0" font-family='"Liberation Sans", sans-serif' font-size="12.5">I<tspan font-size="7.75" font-weight="bold" dy="3.3">DS</tspan><tspan dy="-3.3" xml:space="preserve"> (A)</tspan></text>
</g>
<g transform="translate(237,12.8) scale(1.1,1)">
<text x="0" y="0" font-family='"Liberation Serif", serif' font-size="17" font-weight="bold" text-anchor="start" fill="#000" >b)</text>
</g>
<path d="M502.4 139 L506.2 135.7 L508.4 139 L510.6 139 L512.8 132.4 L515.8 135.7 L518.8 136.9 L521.8 132 L524 133.5 L525.5 136.4 L527.7 133 L530.7 131.2 L533.9 128.5 L538.8 121.5 L543.7 114.5 L550 107 L557 98 L564 90.5 L570.5 83.5 L575 79.5 L580 74.5 L590 67 L598 61 L606 54.5 L613 48.5 L620 42.8 L626.8 37.8 L633.5 32.6 L640.3 29 L647 26.4 L653.8 23.6 L660.5 21.6 L666 20.8 L669.3 21.6" fill="none" stroke="#4c3838" stroke-width="1.8" stroke-linejoin="round" stroke-linecap="round" />
<path d="M502.4 139 L506.2 135.7 L508.4 139 L510.6 139 L512.8 132.4 L515.8 135.7 L518.8 136.9 L521.8 132 L524 133.5 L525.5 136.4 L527.7 133 L530.7 131.2 L533.9 128.5 L538.8 121.5 L543.7 114.5 L550 107 L557 98 L564 90.5 L570.5 83.5 L575 79.5 L580 74.5 L590 67 L598 61 L606 54.5 L613 48.5 L620 42.8 L626.8 37.8 L633.5 32.6 L640.3 29 L647 26.4 L653.8 23.6 L660.5 21.6 L666 20.8 L669.3 21.6" fill="none" stroke="#140606" stroke-width="2.1" stroke-dasharray="0.9 1.1" stroke-linejoin="round" />
<path d="M502.6 149.4 L518 149.4 L519.5 147.6 L521.5 143.9 L523.3 145.4 L527.7 143.9 L533.7 140.1 L538.1 136.4 L541.1 136.9 L542.6 131.2 L544.8 137.2 L550 135.7 L554.5 138.7 L560.4 136.4 L566.4 132 L570.8 126.8 L575 121.5 L580 117 L589 107 L598.9 96.2 L608 86 L617.8 75.4 L627 64 L636.7 52.8 L643 46.5 L651.1 39.5 L657.8 33 L663.2 27.2 L669.3 21.6" fill="none" stroke="#4c3838" stroke-width="1.8" stroke-linejoin="round" stroke-linecap="round" />
<path d="M502.6 149.4 L518 149.4 L519.5 147.6 L521.5 143.9 L523.3 145.4 L527.7 143.9 L533.7 140.1 L538.1 136.4 L541.1 136.9 L542.6 131.2 L544.8 137.2 L550 135.7 L554.5 138.7 L560.4 136.4 L566.4 132 L570.8 126.8 L575 121.5 L580 117 L589 107 L598.9 96.2 L608 86 L617.8 75.4 L627 64 L636.7 52.8 L643 46.5 L651.1 39.5 L657.8 33 L663.2 27.2 L669.3 21.6" fill="none" stroke="#140606" stroke-width="2.1" stroke-dasharray="0.9 1.1" stroke-linejoin="round" />
<path d="M502.6 149.4 L535 149.2 L545 146.5 L550 143.9 L560.6 137.8 L571.1 129 L581.7 118.4 L592.2 106.1 L602.8 92 L611.6 85 L621 79 L630.7 72.2 L639 66 L645 62.4 L655.6 56 L662 53.5 L668.8 52.8" fill="none" stroke="#9e2020" stroke-width="1.8" stroke-linejoin="round" stroke-linecap="round" />
<path d="M502.6 149.4 L535 149.2 L545 146.5 L550 143.9 L560.6 137.8 L571.1 129 L581.7 118.4 L592.2 106.1 L602.8 92 L611.6 85 L621 79 L630.7 72.2 L639 66 L645 62.4 L655.6 56 L662 53.5 L668.8 52.8" fill="none" stroke="#6a0e0e" stroke-width="2.1" stroke-dasharray="0.9 1.1" stroke-linejoin="round" />
<path d="M502.6 149.4 L545 149 L558.8 147.4 L576.4 141.8 L594 134 L608 125 L620 115.5 L633.8 103.8 L648.4 84.3 L656 71.7 L663 60 L668.8 52.8" fill="none" stroke="#9e2020" stroke-width="1.8" stroke-linejoin="round" stroke-linecap="round" />
<path d="M502.6 149.4 L545 149 L558.8 147.4 L576.4 141.8 L594 134 L608 125 L620 115.5 L633.8 103.8 L648.4 84.3 L656 71.7 L663 60 L668.8 52.8" fill="none" stroke="#6a0e0e" stroke-width="2.1" stroke-dasharray="0.9 1.1" stroke-linejoin="round" />
<path d="M502.6 149.4 L550 149 L565 142.7 L577 133.5 L587 126 L598 116 L608.3 107 L617.8 98.1 L627 91 L636.7 84.9 L645 80 L655.6 73.6 L662 71.5 L668.8 70.9" fill="none" stroke="#f81c1c" stroke-width="1.8" stroke-linejoin="round" stroke-linecap="round" />
<path d="M502.6 149.4 L550 149 L565 142.7 L577 133.5 L587 126 L598 116 L608.3 107 L617.8 98.1 L627 91 L636.7 84.9 L645 80 L655.6 73.6 L662 71.5 L668.8 70.9" fill="none" stroke="#ff7070" stroke-width="0.8" stroke-dasharray="0.9 1.1" stroke-linejoin="round" />
<path d="M502.6 149.4 L560 149 L585 145.6 L598.9 139.7 L608.3 134.5 L617.8 128.3 L627 120 L636.7 109.4 L645 98 L655.6 83 L662 76 L668.8 70.9" fill="none" stroke="#f81c1c" stroke-width="1.8" stroke-linejoin="round" stroke-linecap="round" />
<path d="M502.6 149.4 L560 149 L585 145.6 L598.9 139.7 L608.3 134.5 L617.8 128.3 L627 120 L636.7 109.4 L645 98 L655.6 83 L662 76 L668.8 70.9" fill="none" stroke="#ff7070" stroke-width="0.8" stroke-dasharray="0.9 1.1" stroke-linejoin="round" />
<path d="M502.6 149.4 L565 148.8 L585 144.4 L596.6 139.8 L608.3 130.5 L619.9 118.8 L631.5 104.9 L643.2 93.3 L654.8 85.1 L662 81 L668.7 79.3" fill="none" stroke="#ff4444" stroke-width="1.8" stroke-linejoin="round" stroke-linecap="round" />
<path d="M502.6 149.4 L565 148.8 L585 144.4 L596.6 139.8 L608.3 130.5 L619.9 118.8 L631.5 104.9 L643.2 93.3 L654.8 85.1 L662 81 L668.7 79.3" fill="none" stroke="#ff9090" stroke-width="0.8" stroke-dasharray="0.9 1.1" stroke-linejoin="round" />
<path d="M502.6 149.4 L570 149.2 L585 146.8 L599 144.4 L612.9 139.8 L624.5 131.6 L636.2 121.2 L647.8 107.2 L659.4 93.3 L668.7 79.3" fill="none" stroke="#ff4444" stroke-width="1.8" stroke-linejoin="round" stroke-linecap="round" />
<path d="M502.6 149.4 L570 149.2 L585 146.8 L599 144.4 L612.9 139.8 L624.5 131.6 L636.2 121.2 L647.8 107.2 L659.4 93.3 L668.7 79.3" fill="none" stroke="#ff9090" stroke-width="0.8" stroke-dasharray="0.9 1.1" stroke-linejoin="round" />
<line x1="503.1" y1="156.2" x2="503.1" y2="153.2" stroke="#333" stroke-width="1"/>
<line x1="503.1" y1="5.4" x2="503.1" y2="8.4" stroke="#333" stroke-width="1"/>
<line x1="528.7" y1="156.2" x2="528.7" y2="153.2" stroke="#333" stroke-width="1"/>
<line x1="528.7" y1="5.4" x2="528.7" y2="8.4" stroke="#333" stroke-width="1"/>
<line x1="554.2" y1="156.2" x2="554.2" y2="153.2" stroke="#333" stroke-width="1"/>
<line x1="554.2" y1="5.4" x2="554.2" y2="8.4" stroke="#333" stroke-width="1"/>
<line x1="579.8" y1="156.2" x2="579.8" y2="153.2" stroke="#333" stroke-width="1"/>
<line x1="579.8" y1="5.4" x2="579.8" y2="8.4" stroke="#333" stroke-width="1"/>
<line x1="605.3" y1="156.2" x2="605.3" y2="153.2" stroke="#333" stroke-width="1"/>
<line x1="605.3" y1="5.4" x2="605.3" y2="8.4" stroke="#333" stroke-width="1"/>
<line x1="630.8" y1="156.2" x2="630.8" y2="153.2" stroke="#333" stroke-width="1"/>
<line x1="630.8" y1="5.4" x2="630.8" y2="8.4" stroke="#333" stroke-width="1"/>
<line x1="656.4" y1="156.2" x2="656.4" y2="153.2" stroke="#333" stroke-width="1"/>
<line x1="656.4" y1="5.4" x2="656.4" y2="8.4" stroke="#333" stroke-width="1"/>
<line x1="681.9" y1="156.2" x2="681.9" y2="153.2" stroke="#333" stroke-width="1"/>
<line x1="681.9" y1="5.4" x2="681.9" y2="8.4" stroke="#333" stroke-width="1"/>
<line x1="515.9" y1="156.2" x2="515.9" y2="154.4" stroke="#333" stroke-width="1"/>
<line x1="515.9" y1="5.4" x2="515.9" y2="7.2" stroke="#333" stroke-width="1"/>
<line x1="541.4" y1="156.2" x2="541.4" y2="154.4" stroke="#333" stroke-width="1"/>
<line x1="541.4" y1="5.4" x2="541.4" y2="7.2" stroke="#333" stroke-width="1"/>
<line x1="567" y1="156.2" x2="567" y2="154.4" stroke="#333" stroke-width="1"/>
<line x1="567" y1="5.4" x2="567" y2="7.2" stroke="#333" stroke-width="1"/>
<line x1="592.5" y1="156.2" x2="592.5" y2="154.4" stroke="#333" stroke-width="1"/>
<line x1="592.5" y1="5.4" x2="592.5" y2="7.2" stroke="#333" stroke-width="1"/>
<line x1="618.1" y1="156.2" x2="618.1" y2="154.4" stroke="#333" stroke-width="1"/>
<line x1="618.1" y1="5.4" x2="618.1" y2="7.2" stroke="#333" stroke-width="1"/>
<line x1="643.6" y1="156.2" x2="643.6" y2="154.4" stroke="#333" stroke-width="1"/>
<line x1="643.6" y1="5.4" x2="643.6" y2="7.2" stroke="#333" stroke-width="1"/>
<line x1="669.1" y1="156.2" x2="669.1" y2="154.4" stroke="#333" stroke-width="1"/>
<line x1="669.1" y1="5.4" x2="669.1" y2="7.2" stroke="#333" stroke-width="1"/>
<line x1="490.5" y1="149.4" x2="493.5" y2="149.4" stroke="#333" stroke-width="1"/>
<line x1="682.4" y1="149.4" x2="679.4" y2="149.4" stroke="#333" stroke-width="1"/>
<line x1="490.5" y1="113.4" x2="493.5" y2="113.4" stroke="#333" stroke-width="1"/>
<line x1="682.4" y1="113.4" x2="679.4" y2="113.4" stroke="#333" stroke-width="1"/>
<line x1="490.5" y1="77.4" x2="493.5" y2="77.4" stroke="#333" stroke-width="1"/>
<line x1="682.4" y1="77.4" x2="679.4" y2="77.4" stroke="#333" stroke-width="1"/>
<line x1="490.5" y1="41.4" x2="493.5" y2="41.4" stroke="#333" stroke-width="1"/>
<line x1="682.4" y1="41.4" x2="679.4" y2="41.4" stroke="#333" stroke-width="1"/>
<line x1="490.5" y1="5.4" x2="493.5" y2="5.4" stroke="#333" stroke-width="1"/>
<line x1="682.4" y1="5.4" x2="679.4" y2="5.4" stroke="#333" stroke-width="1"/>
<line x1="490.5" y1="131.4" x2="492.3" y2="131.4" stroke="#333" stroke-width="1"/>
<line x1="682.4" y1="131.4" x2="680.6" y2="131.4" stroke="#333" stroke-width="1"/>
<line x1="490.5" y1="95.4" x2="492.3" y2="95.4" stroke="#333" stroke-width="1"/>
<line x1="682.4" y1="95.4" x2="680.6" y2="95.4" stroke="#333" stroke-width="1"/>
<line x1="490.5" y1="59.4" x2="492.3" y2="59.4" stroke="#333" stroke-width="1"/>
<line x1="682.4" y1="59.4" x2="680.6" y2="59.4" stroke="#333" stroke-width="1"/>
<line x1="490.5" y1="23.4" x2="492.3" y2="23.4" stroke="#333" stroke-width="1"/>
<line x1="682.4" y1="23.4" x2="680.6" y2="23.4" stroke="#333" stroke-width="1"/>
<line x1="490.5" y1="5.4" x2="682.4" y2="5.4" stroke="#777" stroke-width="1.3"/>
<line x1="490.5" y1="156.2" x2="682.4" y2="156.2" stroke="#222" stroke-width="1.3"/>
<line x1="490.5" y1="4.800000000000001" x2="490.5" y2="156.79999999999998" stroke="#222" stroke-width="1.3"/>
<line x1="682.4" y1="4.800000000000001" x2="682.4" y2="156.79999999999998" stroke="#333" stroke-width="1.3"/>
<g transform="translate(503.1,168.6) scale(1.12,1)">
<text x="0" y="0" font-family='"Liberation Sans", sans-serif' font-size="10" font-weight="bold" text-anchor="middle" fill="#000" >-8</text>
</g>
<g transform="translate(528.7,168.6) scale(1.12,1)">
<text x="0" y="0" font-family='"Liberation Sans", sans-serif' font-size="10" font-weight="bold" text-anchor="middle" fill="#000" >-6</text>
</g>
<g transform="translate(554.2,168.6) scale(1.12,1)">
<text x="0" y="0" font-family='"Liberation Sans", sans-serif' font-size="10" font-weight="bold" text-anchor="middle" fill="#000" >-4</text>
</g>
<g transform="translate(579.8,168.6) scale(1.12,1)">
<text x="0" y="0" font-family='"Liberation Sans", sans-serif' font-size="10" font-weight="bold" text-anchor="middle" fill="#000" >-2</text>
</g>
<g transform="translate(605.3,168.6) scale(1.12,1)">
<text x="0" y="0" font-family='"Liberation Sans", sans-serif' font-size="10" font-weight="bold" text-anchor="middle" fill="#000" >0</text>
</g>
<g transform="translate(630.8,168.6) scale(1.12,1)">
<text x="0" y="0" font-family='"Liberation Sans", sans-serif' font-size="10" font-weight="bold" text-anchor="middle" fill="#000" >2</text>
</g>
<g transform="translate(656.4,168.6) scale(1.12,1)">
<text x="0" y="0" font-family='"Liberation Sans", sans-serif' font-size="10" font-weight="bold" text-anchor="middle" fill="#000" >4</text>
</g>
<g transform="translate(681.9,168.6) scale(1.12,1)">
<text x="0" y="0" font-family='"Liberation Sans", sans-serif' font-size="10" font-weight="bold" text-anchor="middle" fill="#000" >6</text>
</g>
<g transform="translate(487.5,153) scale(1.12,1)">
<text x="0" y="0" font-family='"Liberation Sans", sans-serif' font-size="10" font-weight="bold" text-anchor="end" fill="#000" >0</text>
</g>
<g transform="translate(487.5,117) scale(1.12,1)">
<text x="0" y="0" font-family='"Liberation Sans", sans-serif' font-size="10" font-weight="bold" text-anchor="end" fill="#000" >1&#956;</text>
</g>
<g transform="translate(487.5,81) scale(1.12,1)">
<text x="0" y="0" font-family='"Liberation Sans", sans-serif' font-size="10" font-weight="bold" text-anchor="end" fill="#000" >2&#956;</text>
</g>
<g transform="translate(487.5,45) scale(1.12,1)">
<text x="0" y="0" font-family='"Liberation Sans", sans-serif' font-size="10" font-weight="bold" text-anchor="end" fill="#000" >3&#956;</text>
</g>
<g transform="translate(487.5,9) scale(1.12,1)">
<text x="0" y="0" font-family='"Liberation Sans", sans-serif' font-size="10" font-weight="bold" text-anchor="end" fill="#000" >4&#956;</text>
</g>
<line x1="497" y1="16.1" x2="520.8" y2="16.1" stroke="#4c3838" stroke-width="1.4"/>
<circle cx="508.9" cy="16.1" r="1.2" fill="#4c3838"/>
<text x="523" y="19.9" font-family='"Liberation Sans", sans-serif' font-size="10.5" xml:space="preserve">V<tspan font-size="6.5" font-weight="bold" dy="3">G3</tspan><tspan dy="-3"> =  3 V</tspan></text>
<line x1="497" y1="31.7" x2="520.8" y2="31.7" stroke="#9e2020" stroke-width="1.4"/>
<circle cx="508.9" cy="31.7" r="1.2" fill="#9e2020"/>
<text x="523" y="35.5" font-family='"Liberation Sans", sans-serif' font-size="10.5" xml:space="preserve">V<tspan font-size="6.5" font-weight="bold" dy="3">G3</tspan><tspan dy="-3"> =  1 V</tspan></text>
<line x1="497" y1="47.2" x2="520.8" y2="47.2" stroke="#f81c1c" stroke-width="1.4"/>
<circle cx="508.9" cy="47.2" r="1.2" fill="#f81c1c"/>
<text x="523" y="51" font-family='"Liberation Sans", sans-serif' font-size="10.5" xml:space="preserve">V<tspan font-size="6.5" font-weight="bold" dy="3">G3</tspan><tspan dy="-3"> = -1 V</tspan></text>
<line x1="497" y1="62.6" x2="520.8" y2="62.6" stroke="#ff4444" stroke-width="1.4"/>
<circle cx="508.9" cy="62.6" r="1.2" fill="#ff4444"/>
<text x="523" y="66.4" font-family='"Liberation Sans", sans-serif' font-size="10.5" xml:space="preserve">V<tspan font-size="6.5" font-weight="bold" dy="3">G3</tspan><tspan dy="-3"> = -3 V</tspan></text>
<text x="630.3" y="147.8" font-family='"Liberation Sans", sans-serif' font-size="11" xml:space="preserve">V<tspan font-size="7.5" dy="3.8">DS</tspan><tspan dy="-3.8"> = 5 V</tspan></text>
<text x="574.3" y="180" font-family='"Liberation Sans", sans-serif' font-size="13">V<tspan font-size="8" font-weight="bold" dy="5">GS2</tspan></text>
<g transform="translate(467.2,95) rotate(-90) scale(1,1.15)">
<text x="0" y="0" font-family='"Liberation Sans", sans-serif' font-size="12.5">I<tspan font-size="7.75" font-weight="bold" dy="3.3">DS</tspan><tspan dy="-3.3" xml:space="preserve"> (A)</tspan></text>
</g>
<g transform="translate(456.5,12.8) scale(1.1,1)">
<text x="0" y="0" font-family='"Liberation Serif", serif' font-size="17" font-weight="bold" text-anchor="start" fill="#000" >c)</text>
</g>
<path d="M45.7 327.6 L50 325 L55.2 321.9 L60 320.5 L66.5 316.2 L72 309 L77.9 303 L83 297 L89.2 291.6 L95 284 L100.6 278.3 L106 271 L112 265.1 L118 259 L123.3 255.6 L130 248 L140.8 239.4 L151.6 231.8 L160 226.6 L168.1 221.8 L176.2 216.9 L184.3 212.8 L192.4 209.9 L200.5 208 L208.6 206.7 L212 207.6" fill="none" stroke="#4c3838" stroke-width="1.8" stroke-linejoin="round" stroke-linecap="round" />
<path d="M45.7 327.6 L50 325 L55.2 321.9 L60 320.5 L66.5 316.2 L72 309 L77.9 303 L83 297 L89.2 291.6 L95 284 L100.6 278.3 L106 271 L112 265.1 L118 259 L123.3 255.6 L130 248 L140.8 239.4 L151.6 231.8 L160 226.6 L168.1 221.8 L176.2 216.9 L184.3 212.8 L192.4 209.9 L200.5 208 L208.6 206.7 L212 207.6" fill="none" stroke="#140606" stroke-width="2.1" stroke-dasharray="0.9 1.1" stroke-linejoin="round" />
<path d="M45.7 329.5 L55 327.5 L62.7 325.7 L70 324 L77.9 320 L84 319.5 L89.2 318.1 L95 315 L100.6 312.4 L106 310.5 L112 306.7 L118 303 L122.4 296 L133.2 285.2 L144 276.6 L154.8 265.8 L162 259.5 L168.1 255 L173 250.1 L181.1 242 L189.2 232.3 L197.3 222.6 L205.4 213.6 L212 207.6" fill="none" stroke="#4c3838" stroke-width="1.8" stroke-linejoin="round" stroke-linecap="round" />
<path d="M45.7 329.5 L55 327.5 L62.7 325.7 L70 324 L77.9 320 L84 319.5 L89.2 318.1 L95 315 L100.6 312.4 L106 310.5 L112 306.7 L118 303 L122.4 296 L133.2 285.2 L144 276.6 L154.8 265.8 L162 259.5 L168.1 255 L173 250.1 L181.1 242 L189.2 232.3 L197.3 222.6 L205.4 213.6 L212 207.6" fill="none" stroke="#140606" stroke-width="2.1" stroke-dasharray="0.9 1.1" stroke-linejoin="round" />
<path d="M45.7 330.7 L70 330 L80 327 L90 322 L100.8 316.6 L111.6 309 L122.4 297.1 L133.2 287.4 L144 278.8 L154.8 270.1 L162.5 266.4 L173.3 259.9 L184.1 253.4 L194.9 248 L203.6 244.8 L208 244.5 L212.2 245.9" fill="none" stroke="#a82020" stroke-width="1.8" stroke-linejoin="round" stroke-linecap="round" />
<path d="M45.7 330.7 L70 330 L80 327 L90 322 L100.8 316.6 L111.6 309 L122.4 297.1 L133.2 287.4 L144 278.8 L154.8 270.1 L162.5 266.4 L173.3 259.9 L184.1 253.4 L194.9 248 L203.6 244.8 L208 244.5 L212.2 245.9" fill="none" stroke="#6a0e0e" stroke-width="2.1" stroke-dasharray="0.9 1.1" stroke-linejoin="round" />
<path d="M45.7 330.7 L90 330 L111.6 324.1 L133.2 315.5 L150 302.9 L165.2 291.5 L180.3 280.2 L190.6 270.7 L195.5 265 L201.4 259.9 L212.2 245.9" fill="none" stroke="#a82020" stroke-width="1.8" stroke-linejoin="round" stroke-linecap="round" />
<path d="M45.7 330.7 L90 330 L111.6 324.1 L133.2 315.5 L150 302.9 L165.2 291.5 L180.3 280.2 L190.6 270.7 L195.5 265 L201.4 259.9 L212.2 245.9" fill="none" stroke="#6a0e0e" stroke-width="2.1" stroke-dasharray="0.9 1.1" stroke-linejoin="round" />
<path d="M45.7 330.7 L80 330.5 L90 328.6 L111.6 324.1 L133.2 315.5 L150 300.5 L161.4 293.4 L172.7 287.7 L184.1 283 L195.5 279.2 L206.8 277.9 L212.5 278.3" fill="none" stroke="#f81c1c" stroke-width="1.8" stroke-linejoin="round" stroke-linecap="round" />
<path d="M45.7 330.7 L80 330.5 L90 328.6 L111.6 324.1 L133.2 315.5 L150 300.5 L161.4 293.4 L172.7 287.7 L184.1 283 L195.5 279.2 L206.8 277.9 L212.5 278.3" fill="none" stroke="#ff7070" stroke-width="0.8" stroke-dasharray="0.9 1.1" stroke-linejoin="round" />
<path d="M45.7 330.7 L110 329.8 L133.2 325 L150 321.8 L159.5 319 L168.9 315.2 L178.4 310.5 L187.9 303.8 L195.5 297.2 L201.1 289.6 L206.8 283 L212.5 278.3" fill="none" stroke="#f81c1c" stroke-width="1.8" stroke-linejoin="round" stroke-linecap="round" />
<path d="M45.7 330.7 L110 329.8 L133.2 325 L150 321.8 L159.5 319 L168.9 315.2 L178.4 310.5 L187.9 303.8 L195.5 297.2 L201.1 289.6 L206.8 283 L212.5 278.3" fill="none" stroke="#ff7070" stroke-width="0.8" stroke-dasharray="0.9 1.1" stroke-linejoin="round" />
<path d="M45.7 330.7 L110 330.2 L133.2 326.2 L150 320.9 L159.5 318 L168.9 313.3 L178.4 307.6 L187.9 301.9 L197.3 296.3 L204.9 293.4 L212.5 292.5" fill="none" stroke="#ff4444" stroke-width="1.8" stroke-linejoin="round" stroke-linecap="round" />
<path d="M45.7 330.7 L110 330.2 L133.2 326.2 L150 320.9 L159.5 318 L168.9 313.3 L178.4 307.6 L187.9 301.9 L197.3 296.3 L204.9 293.4 L212.5 292.5" fill="none" stroke="#ff9090" stroke-width="0.8" stroke-dasharray="0.9 1.1" stroke-linejoin="round" />
<path d="M45.7 330.7 L120 330.5 L150 327.5 L161.4 325.6 L172.7 323.7 L184.1 319.9 L193.6 314.2 L201.1 305.7 L206.8 298.1 L212.5 292.5" fill="none" stroke="#ff4444" stroke-width="1.8" stroke-linejoin="round" stroke-linecap="round" />
<path d="M45.7 330.7 L120 330.5 L150 327.5 L161.4 325.6 L172.7 323.7 L184.1 319.9 L193.6 314.2 L201.1 305.7 L206.8 298.1 L212.5 292.5" fill="none" stroke="#ff9090" stroke-width="0.8" stroke-dasharray="0.9 1.1" stroke-linejoin="round" />
<line x1="45.6" y1="339.3" x2="45.6" y2="336.3" stroke="#333" stroke-width="1"/>
<line x1="45.6" y1="188.2" x2="45.6" y2="191.2" stroke="#333" stroke-width="1"/>
<line x1="71.2" y1="339.3" x2="71.2" y2="336.3" stroke="#333" stroke-width="1"/>
<line x1="71.2" y1="188.2" x2="71.2" y2="191.2" stroke="#333" stroke-width="1"/>
<line x1="96.8" y1="339.3" x2="96.8" y2="336.3" stroke="#333" stroke-width="1"/>
<line x1="96.8" y1="188.2" x2="96.8" y2="191.2" stroke="#333" stroke-width="1"/>
<line x1="122.4" y1="339.3" x2="122.4" y2="336.3" stroke="#333" stroke-width="1"/>
<line x1="122.4" y1="188.2" x2="122.4" y2="191.2" stroke="#333" stroke-width="1"/>
<line x1="148" y1="339.3" x2="148" y2="336.3" stroke="#333" stroke-width="1"/>
<line x1="148" y1="188.2" x2="148" y2="191.2" stroke="#333" stroke-width="1"/>
<line x1="173.6" y1="339.3" x2="173.6" y2="336.3" stroke="#333" stroke-width="1"/>
<line x1="173.6" y1="188.2" x2="173.6" y2="191.2" stroke="#333" stroke-width="1"/>
<line x1="199.2" y1="339.3" x2="199.2" y2="336.3" stroke="#333" stroke-width="1"/>
<line x1="199.2" y1="188.2" x2="199.2" y2="191.2" stroke="#333" stroke-width="1"/>
<line x1="224.8" y1="339.3" x2="224.8" y2="336.3" stroke="#333" stroke-width="1"/>
<line x1="224.8" y1="188.2" x2="224.8" y2="191.2" stroke="#333" stroke-width="1"/>
<line x1="58.4" y1="339.3" x2="58.4" y2="337.5" stroke="#333" stroke-width="1"/>
<line x1="58.4" y1="188.2" x2="58.4" y2="190" stroke="#333" stroke-width="1"/>
<line x1="84" y1="339.3" x2="84" y2="337.5" stroke="#333" stroke-width="1"/>
<line x1="84" y1="188.2" x2="84" y2="190" stroke="#333" stroke-width="1"/>
<line x1="109.6" y1="339.3" x2="109.6" y2="337.5" stroke="#333" stroke-width="1"/>
<line x1="109.6" y1="188.2" x2="109.6" y2="190" stroke="#333" stroke-width="1"/>
<line x1="135.2" y1="339.3" x2="135.2" y2="337.5" stroke="#333" stroke-width="1"/>
<line x1="135.2" y1="188.2" x2="135.2" y2="190" stroke="#333" stroke-width="1"/>
<line x1="160.8" y1="339.3" x2="160.8" y2="337.5" stroke="#333" stroke-width="1"/>
<line x1="160.8" y1="188.2" x2="160.8" y2="190" stroke="#333" stroke-width="1"/>
<line x1="186.4" y1="339.3" x2="186.4" y2="337.5" stroke="#333" stroke-width="1"/>
<line x1="186.4" y1="188.2" x2="186.4" y2="190" stroke="#333" stroke-width="1"/>
<line x1="212" y1="339.3" x2="212" y2="337.5" stroke="#333" stroke-width="1"/>
<line x1="212" y1="188.2" x2="212" y2="190" stroke="#333" stroke-width="1"/>
<line x1="33.6" y1="330.7" x2="36.6" y2="330.7" stroke="#333" stroke-width="1"/>
<line x1="225.2" y1="330.7" x2="222.2" y2="330.7" stroke="#333" stroke-width="1"/>
<line x1="33.6" y1="287.4" x2="36.6" y2="287.4" stroke="#333" stroke-width="1"/>
<line x1="225.2" y1="287.4" x2="222.2" y2="287.4" stroke="#333" stroke-width="1"/>
<line x1="33.6" y1="244.1" x2="36.6" y2="244.1" stroke="#333" stroke-width="1"/>
<line x1="225.2" y1="244.1" x2="222.2" y2="244.1" stroke="#333" stroke-width="1"/>
<line x1="33.6" y1="200.8" x2="36.6" y2="200.8" stroke="#333" stroke-width="1"/>
<line x1="225.2" y1="200.8" x2="222.2" y2="200.8" stroke="#333" stroke-width="1"/>
<line x1="33.6" y1="309.1" x2="35.4" y2="309.1" stroke="#333" stroke-width="1"/>
<line x1="225.2" y1="309.1" x2="223.4" y2="309.1" stroke="#333" stroke-width="1"/>
<line x1="33.6" y1="265.8" x2="35.4" y2="265.8" stroke="#333" stroke-width="1"/>
<line x1="225.2" y1="265.8" x2="223.4" y2="265.8" stroke="#333" stroke-width="1"/>
<line x1="33.6" y1="222.4" x2="35.4" y2="222.4" stroke="#333" stroke-width="1"/>
<line x1="225.2" y1="222.4" x2="223.4" y2="222.4" stroke="#333" stroke-width="1"/>
<line x1="33.6" y1="188.2" x2="225.2" y2="188.2" stroke="#555" stroke-width="1.3"/>
<line x1="33.6" y1="339.3" x2="225.2" y2="339.3" stroke="#222" stroke-width="1.3"/>
<line x1="33.6" y1="187.6" x2="33.6" y2="339.90000000000003" stroke="#222" stroke-width="1.3"/>
<line x1="225.2" y1="187.6" x2="225.2" y2="339.90000000000003" stroke="#333" stroke-width="1.3"/>
<g transform="translate(45.6,351.3) scale(1.12,1)">
<text x="0" y="0" font-family='"Liberation Sans", sans-serif' font-size="10" font-weight="bold" text-anchor="middle" fill="#000" >-8</text>
</g>
<g transform="translate(71.2,351.3) scale(1.12,1)">
<text x="0" y="0" font-family='"Liberation Sans", sans-serif' font-size="10" font-weight="bold" text-anchor="middle" fill="#000" >-6</text>
</g>
<g transform="translate(96.8,351.3) scale(1.12,1)">
<text x="0" y="0" font-family='"Liberation Sans", sans-serif' font-size="10" font-weight="bold" text-anchor="middle" fill="#000" >-4</text>
</g>
<g transform="translate(122.4,351.3) scale(1.12,1)">
<text x="0" y="0" font-family='"Liberation Sans", sans-serif' font-size="10" font-weight="bold" text-anchor="middle" fill="#000" >-2</text>
</g>
<g transform="translate(148,351.3) scale(1.12,1)">
<text x="0" y="0" font-family='"Liberation Sans", sans-serif' font-size="10" font-weight="bold" text-anchor="middle" fill="#000" >0</text>
</g>
<g transform="translate(173.6,351.3) scale(1.12,1)">
<text x="0" y="0" font-family='"Liberation Sans", sans-serif' font-size="10" font-weight="bold" text-anchor="middle" fill="#000" >2</text>
</g>
<g transform="translate(199.2,351.3) scale(1.12,1)">
<text x="0" y="0" font-family='"Liberation Sans", sans-serif' font-size="10" font-weight="bold" text-anchor="middle" fill="#000" >4</text>
</g>
<g transform="translate(224.8,351.3) scale(1.12,1)">
<text x="0" y="0" font-family='"Liberation Sans", sans-serif' font-size="10" font-weight="bold" text-anchor="middle" fill="#000" >6</text>
</g>
<g transform="translate(29.6,334.3) scale(1.12,1)">
<text x="0" y="0" font-family='"Liberation Sans", sans-serif' font-size="10" font-weight="bold" text-anchor="end" fill="#000" >0</text>
</g>
<g transform="translate(29.6,291) scale(1.12,1)">
<text x="0" y="0" font-family='"Liberation Sans", sans-serif' font-size="10" font-weight="bold" text-anchor="end" fill="#000" >1&#956;</text>
</g>
<g transform="translate(29.6,247.7) scale(1.12,1)">
<text x="0" y="0" font-family='"Liberation Sans", sans-serif' font-size="10" font-weight="bold" text-anchor="end" fill="#000" >2&#956;</text>
</g>
<g transform="translate(29.6,204.4) scale(1.12,1)">
<text x="0" y="0" font-family='"Liberation Sans", sans-serif' font-size="10" font-weight="bold" text-anchor="end" fill="#000" >3&#956;</text>
</g>
<line x1="37.9" y1="196.8" x2="61.5" y2="196.8" stroke="#4c3838" stroke-width="1.4"/>
<circle cx="49.7" cy="196.8" r="1.2" fill="#4c3838"/>
<text x="64.3" y="200.6" font-family='"Liberation Sans", sans-serif' font-size="10.5" xml:space="preserve">V<tspan font-size="6.5" font-weight="bold" dy="3">G1</tspan><tspan dy="-3"> =  3 V</tspan></text>
<line x1="37.9" y1="213" x2="61.5" y2="213" stroke="#a82020" stroke-width="1.4"/>
<circle cx="49.7" cy="213" r="1.2" fill="#a82020"/>
<text x="64.3" y="216.8" font-family='"Liberation Sans", sans-serif' font-size="10.5" xml:space="preserve">V<tspan font-size="6.5" font-weight="bold" dy="3">G1</tspan><tspan dy="-3"> =  1 V</tspan></text>
<line x1="37.9" y1="228.4" x2="61.5" y2="228.4" stroke="#f81c1c" stroke-width="1.4"/>
<circle cx="49.7" cy="228.4" r="1.2" fill="#f81c1c"/>
<text x="64.3" y="232.2" font-family='"Liberation Sans", sans-serif' font-size="10.5" xml:space="preserve">V<tspan font-size="6.5" font-weight="bold" dy="3">G1</tspan><tspan dy="-3"> = -1 V</tspan></text>
<line x1="37.9" y1="244.2" x2="61.5" y2="244.2" stroke="#ff4444" stroke-width="1.4"/>
<circle cx="49.7" cy="244.2" r="1.2" fill="#ff4444"/>
<text x="64.3" y="248" font-family='"Liberation Sans", sans-serif' font-size="10.5" xml:space="preserve">V<tspan font-size="6.5" font-weight="bold" dy="3">G1</tspan><tspan dy="-3"> = -3 V</tspan></text>
<text x="174.5" y="333.2" font-family='"Liberation Sans", sans-serif' font-size="11" xml:space="preserve">V<tspan font-size="7.5" dy="3.8">DS</tspan><tspan dy="-3.8"> = 5 V</tspan></text>
<text x="120.3" y="363.6" font-family='"Liberation Sans", sans-serif' font-size="13">V<tspan font-size="8" font-weight="bold" dy="5">GS2</tspan></text>
<g transform="translate(12.7,281.5) rotate(-90) scale(1,1.15)">
<text x="0" y="0" font-family='"Liberation Sans", sans-serif' font-size="12.5">I<tspan font-size="7.75" font-weight="bold" dy="3.3">DS</tspan><tspan dy="-3.3" xml:space="preserve"> (A)</tspan></text>
</g>
<g transform="translate(7.5,190.8) scale(1.1,1)">
<text x="0" y="0" font-family='"Liberation Serif", serif' font-size="17" font-weight="bold" text-anchor="start" fill="#000" >d)</text>
</g>
<path d="M273.9 288.6 L276.5 285 L279.2 282.8 L281.5 281.5 L283.8 280.5 L287.2 275.9 L289.5 278.2 L291 275.5 L293 273 L295 271.5 L298.1 265.4 L300 264.5 L302 261 L304 261.5 L306.2 257.3 L308 256.5 L310 254 L312 254.5 L314.3 251.6 L317 250.5 L319 249 L322.4 247.6 L325 246.8 L327 245 L330.5 244.3 L333 243.5 L335 242 L338.6 241.1 L341.9 242.7 L344 241 L346.7 239.4 L350 237 L354.8 233.8 L357 232.5 L360 230.5 L366.5 227.8 L372 226.5 L378 225 L384 224 L389.4 222.4 L395 221.5 L401.1 220.2 L407.2 219 L413.2 217.8 L419.3 217.2 L425.4 216.2 L431.5 216.6 L437 216 L440.6 217.2" fill="none" stroke="#24343e" stroke-width="1.6" stroke-linejoin="round" stroke-linecap="round" />
<path d="M273.9 288.6 L276.5 285 L279.2 282.8 L281.5 281.5 L283.8 280.5 L287.2 275.9 L289.5 278.2 L291 275.5 L293 273 L295 271.5 L298.1 265.4 L300 264.5 L302 261 L304 261.5 L306.2 257.3 L308 256.5 L310 254 L312 254.5 L314.3 251.6 L317 250.5 L319 249 L322.4 247.6 L325 246.8 L327 245 L330.5 244.3 L333 243.5 L335 242 L338.6 241.1 L341.9 242.7 L344 241 L346.7 239.4 L350 237 L354.8 233.8 L357 232.5 L360 230.5 L366.5 227.8 L372 226.5 L378 225 L384 224 L389.4 222.4 L395 221.5 L401.1 220.2 L407.2 219 L413.2 217.8 L419.3 217.2 L425.4 216.2 L431.5 216.6 L437 216 L440.6 217.2" fill="none" stroke="#060c10" stroke-width="2.0" stroke-dasharray="0.9 1.1" stroke-linejoin="round" />
<path d="M273.9 301.1 L277.1 302.2 L280 300 L283.6 305.4 L288 303.3 L292.3 304.4 L294.5 292.5 L298.8 293.5 L303.1 295.7 L307.4 292.5 L311.8 291.4 L318.3 287 L326.9 282.7 L337.7 278.4 L348.5 273 L355 267 L364.2 260.1 L373.4 253.2 L384.9 245.2 L396.3 238.3 L407.8 231.4 L419.3 225.7 L430.8 221.1 L440.4 216.9" fill="none" stroke="#24343e" stroke-width="1.6" stroke-linejoin="round" stroke-linecap="round" />
<path d="M273.9 301.1 L277.1 302.2 L280 300 L283.6 305.4 L288 303.3 L292.3 304.4 L294.5 292.5 L298.8 293.5 L303.1 295.7 L307.4 292.5 L311.8 291.4 L318.3 287 L326.9 282.7 L337.7 278.4 L348.5 273 L355 267 L364.2 260.1 L373.4 253.2 L384.9 245.2 L396.3 238.3 L407.8 231.4 L419.3 225.7 L430.8 221.1 L440.4 216.9" fill="none" stroke="#060c10" stroke-width="2.0" stroke-dasharray="0.9 1.1" stroke-linejoin="round" />
<path d="M273.9 323.8 L276 322.7 L281.5 311.5 L283.6 310.8 L285.8 313 L292.3 309.8 L300.9 302.2 L311.8 292.5 L322.6 283.8 L333.4 276.2 L344.2 268.7 L355 262.4 L366.5 257.4 L378 253.2 L389.4 248.6 L400.9 245.9 L412.4 244 L423.9 241.3 L433.1 240.6 L440.4 241.3" fill="none" stroke="#1f4a5c" stroke-width="1.6" stroke-linejoin="round" stroke-linecap="round" />
<path d="M273.9 323.8 L276 322.7 L281.5 311.5 L283.6 310.8 L285.8 313 L292.3 309.8 L300.9 302.2 L311.8 292.5 L322.6 283.8 L333.4 276.2 L344.2 268.7 L355 262.4 L366.5 257.4 L378 253.2 L389.4 248.6 L400.9 245.9 L412.4 244 L423.9 241.3 L433.1 240.6 L440.4 241.3" fill="none" stroke="#0c2a36" stroke-width="2.0" stroke-dasharray="0.9 1.1" stroke-linejoin="round" />
<path d="M273.9 324.9 L283.6 324.9 L285.8 322.7 L294.5 320.6 L305.3 317.3 L313.9 314.1 L322.6 308.7 L333.4 301.1 L344.2 293.5 L355 286.5 L371.1 278.5 L382.6 271.6 L394 265.2 L405.5 259 L417 253.2 L428.5 247.5 L440.4 241.7" fill="none" stroke="#1f4a5c" stroke-width="1.6" stroke-linejoin="round" stroke-linecap="round" />
<path d="M273.9 324.9 L283.6 324.9 L285.8 322.7 L294.5 320.6 L305.3 317.3 L313.9 314.1 L322.6 308.7 L333.4 301.1 L344.2 293.5 L355 286.5 L371.1 278.5 L382.6 271.6 L394 265.2 L405.5 259 L417 253.2 L428.5 247.5 L440.4 241.7" fill="none" stroke="#0c2a36" stroke-width="2.0" stroke-dasharray="0.9 1.1" stroke-linejoin="round" />
<path d="M275 331.4 L294.5 329.2 L305.3 326 L322.6 322.7 L337.7 317.3 L348.5 314.1 L355 312.5 L364.5 309.7 L373.9 305 L383.4 300.7 L392.9 296.9 L402.3 293.7 L411.8 291.2 L421.2 289.5 L430.7 288.9 L438.3 289.5 L441.1 290.4" fill="none" stroke="#1aa6ee" stroke-width="1.6" stroke-linejoin="round" stroke-linecap="round" />
<path d="M275 331.4 L294.5 329.2 L305.3 326 L322.6 322.7 L337.7 317.3 L348.5 314.1 L355 312.5 L364.5 309.7 L373.9 305 L383.4 300.7 L392.9 296.9 L402.3 293.7 L411.8 291.2 L421.2 289.5 L430.7 288.9 L438.3 289.5 L441.1 290.4" fill="none" stroke="#0c86cc" stroke-width="2.0" stroke-dasharray="0.9 1.1" stroke-linejoin="round" />
<path d="M275 331.4 L305.3 330.3 L326.9 328.2 L348.5 324.9 L355 323.9 L364.5 322.1 L373.9 319.6 L383.4 317.3 L392.9 314.5 L402.3 310.7 L411.8 306.9 L423.1 301.2 L432.6 295.6 L441.1 290.4" fill="none" stroke="#1aa6ee" stroke-width="1.6" stroke-linejoin="round" stroke-linecap="round" />
<path d="M275 331.4 L305.3 330.3 L326.9 328.2 L348.5 324.9 L355 323.9 L364.5 322.1 L373.9 319.6 L383.4 317.3 L392.9 314.5 L402.3 310.7 L411.8 306.9 L423.1 301.2 L432.6 295.6 L441.1 290.4" fill="none" stroke="#0c86cc" stroke-width="2.0" stroke-dasharray="0.9 1.1" stroke-linejoin="round" />
<path d="M275 331.8 L330 331 L355 329.6 L373.9 327.7 L383.4 325.8 L392.9 323 L402.3 319.6 L411.8 316.9 L421.2 314.9 L430.7 313.9 L436.4 313.2 L441.1 309.4" fill="none" stroke="#44baf2" stroke-width="1.6" stroke-linejoin="round" stroke-linecap="round" />
<path d="M275 331.8 L330 331 L355 329.6 L373.9 327.7 L383.4 325.8 L392.9 323 L402.3 319.6 L411.8 316.9 L421.2 314.9 L430.7 313.9 L436.4 313.2 L441.1 309.4" fill="none" stroke="#2aa0dd" stroke-width="2.0" stroke-dasharray="0.9 1.1" stroke-linejoin="round" />
<path d="M275 331.8 L355 330.6 L373.9 329.1 L392.9 327.7 L411.8 326.8 L422.2 325.8 L432.6 321.1 L437.3 312.6 L441.1 309.4" fill="none" stroke="#44baf2" stroke-width="1.6" stroke-linejoin="round" stroke-linecap="round" />
<path d="M275 331.8 L355 330.6 L373.9 329.1 L392.9 327.7 L411.8 326.8 L422.2 325.8 L432.6 321.1 L437.3 312.6 L441.1 309.4" fill="none" stroke="#2aa0dd" stroke-width="2.0" stroke-dasharray="0.9 1.1" stroke-linejoin="round" />
<line x1="274.8" y1="339.3" x2="274.8" y2="336.3" stroke="#333" stroke-width="1"/>
<line x1="274.8" y1="188.2" x2="274.8" y2="191.2" stroke="#333" stroke-width="1"/>
<line x1="300.3" y1="339.3" x2="300.3" y2="336.3" stroke="#333" stroke-width="1"/>
<line x1="300.3" y1="188.2" x2="300.3" y2="191.2" stroke="#333" stroke-width="1"/>
<line x1="325.8" y1="339.3" x2="325.8" y2="336.3" stroke="#333" stroke-width="1"/>
<line x1="325.8" y1="188.2" x2="325.8" y2="191.2" stroke="#333" stroke-width="1"/>
<line x1="351.3" y1="339.3" x2="351.3" y2="336.3" stroke="#333" stroke-width="1"/>
<line x1="351.3" y1="188.2" x2="351.3" y2="191.2" stroke="#333" stroke-width="1"/>
<line x1="376.8" y1="339.3" x2="376.8" y2="336.3" stroke="#333" stroke-width="1"/>
<line x1="376.8" y1="188.2" x2="376.8" y2="191.2" stroke="#333" stroke-width="1"/>
<line x1="402.3" y1="339.3" x2="402.3" y2="336.3" stroke="#333" stroke-width="1"/>
<line x1="402.3" y1="188.2" x2="402.3" y2="191.2" stroke="#333" stroke-width="1"/>
<line x1="427.8" y1="339.3" x2="427.8" y2="336.3" stroke="#333" stroke-width="1"/>
<line x1="427.8" y1="188.2" x2="427.8" y2="191.2" stroke="#333" stroke-width="1"/>
<line x1="453.3" y1="339.3" x2="453.3" y2="336.3" stroke="#333" stroke-width="1"/>
<line x1="453.3" y1="188.2" x2="453.3" y2="191.2" stroke="#333" stroke-width="1"/>
<line x1="287.6" y1="339.3" x2="287.6" y2="337.5" stroke="#333" stroke-width="1"/>
<line x1="287.6" y1="188.2" x2="287.6" y2="190" stroke="#333" stroke-width="1"/>
<line x1="313.1" y1="339.3" x2="313.1" y2="337.5" stroke="#333" stroke-width="1"/>
<line x1="313.1" y1="188.2" x2="313.1" y2="190" stroke="#333" stroke-width="1"/>
<line x1="338.6" y1="339.3" x2="338.6" y2="337.5" stroke="#333" stroke-width="1"/>
<line x1="338.6" y1="188.2" x2="338.6" y2="190" stroke="#333" stroke-width="1"/>
<line x1="364.1" y1="339.3" x2="364.1" y2="337.5" stroke="#333" stroke-width="1"/>
<line x1="364.1" y1="188.2" x2="364.1" y2="190" stroke="#333" stroke-width="1"/>
<line x1="389.6" y1="339.3" x2="389.6" y2="337.5" stroke="#333" stroke-width="1"/>
<line x1="389.6" y1="188.2" x2="389.6" y2="190" stroke="#333" stroke-width="1"/>
<line x1="415.1" y1="339.3" x2="415.1" y2="337.5" stroke="#333" stroke-width="1"/>
<line x1="415.1" y1="188.2" x2="415.1" y2="190" stroke="#333" stroke-width="1"/>
<line x1="440.6" y1="339.3" x2="440.6" y2="337.5" stroke="#333" stroke-width="1"/>
<line x1="440.6" y1="188.2" x2="440.6" y2="190" stroke="#333" stroke-width="1"/>
<line x1="262.4" y1="331.8" x2="265.4" y2="331.8" stroke="#333" stroke-width="1"/>
<line x1="453.6" y1="331.8" x2="450.6" y2="331.8" stroke="#333" stroke-width="1"/>
<line x1="262.4" y1="295" x2="265.4" y2="295" stroke="#333" stroke-width="1"/>
<line x1="453.6" y1="295" x2="450.6" y2="295" stroke="#333" stroke-width="1"/>
<line x1="262.4" y1="258.2" x2="265.4" y2="258.2" stroke="#333" stroke-width="1"/>
<line x1="453.6" y1="258.2" x2="450.6" y2="258.2" stroke="#333" stroke-width="1"/>
<line x1="262.4" y1="221.4" x2="265.4" y2="221.4" stroke="#333" stroke-width="1"/>
<line x1="453.6" y1="221.4" x2="450.6" y2="221.4" stroke="#333" stroke-width="1"/>
<line x1="262.4" y1="313.4" x2="264.2" y2="313.4" stroke="#333" stroke-width="1"/>
<line x1="453.6" y1="313.4" x2="451.8" y2="313.4" stroke="#333" stroke-width="1"/>
<line x1="262.4" y1="276.6" x2="264.2" y2="276.6" stroke="#333" stroke-width="1"/>
<line x1="453.6" y1="276.6" x2="451.8" y2="276.6" stroke="#333" stroke-width="1"/>
<line x1="262.4" y1="239.8" x2="264.2" y2="239.8" stroke="#333" stroke-width="1"/>
<line x1="453.6" y1="239.8" x2="451.8" y2="239.8" stroke="#333" stroke-width="1"/>
<line x1="262.4" y1="203" x2="264.2" y2="203" stroke="#333" stroke-width="1"/>
<line x1="453.6" y1="203" x2="451.8" y2="203" stroke="#333" stroke-width="1"/>
<line x1="262.4" y1="188.2" x2="453.6" y2="188.2" stroke="#888" stroke-width="1.3"/>
<line x1="262.4" y1="339.3" x2="453.6" y2="339.3" stroke="#222" stroke-width="1.3"/>
<line x1="262.4" y1="187.6" x2="262.4" y2="339.90000000000003" stroke="#999" stroke-width="1.3"/>
<line x1="453.6" y1="187.6" x2="453.6" y2="339.90000000000003" stroke="#333" stroke-width="1.3"/>
<g transform="translate(274.8,351.3) scale(1.12,1)">
<text x="0" y="0" font-family='"Liberation Sans", sans-serif' font-size="10" font-weight="bold" text-anchor="middle" fill="#000" >-8</text>
</g>
<g transform="translate(300.3,351.3) scale(1.12,1)">
<text x="0" y="0" font-family='"Liberation Sans", sans-serif' font-size="10" font-weight="bold" text-anchor="middle" fill="#000" >-6</text>
</g>
<g transform="translate(325.8,351.3) scale(1.12,1)">
<text x="0" y="0" font-family='"Liberation Sans", sans-serif' font-size="10" font-weight="bold" text-anchor="middle" fill="#000" >-4</text>
</g>
<g transform="translate(351.3,351.3) scale(1.12,1)">
<text x="0" y="0" font-family='"Liberation Sans", sans-serif' font-size="10" font-weight="bold" text-anchor="middle" fill="#000" >-2</text>
</g>
<g transform="translate(376.8,351.3) scale(1.12,1)">
<text x="0" y="0" font-family='"Liberation Sans", sans-serif' font-size="10" font-weight="bold" text-anchor="middle" fill="#000" >0</text>
</g>
<g transform="translate(402.3,351.3) scale(1.12,1)">
<text x="0" y="0" font-family='"Liberation Sans", sans-serif' font-size="10" font-weight="bold" text-anchor="middle" fill="#000" >2</text>
</g>
<g transform="translate(427.8,351.3) scale(1.12,1)">
<text x="0" y="0" font-family='"Liberation Sans", sans-serif' font-size="10" font-weight="bold" text-anchor="middle" fill="#000" >4</text>
</g>
<g transform="translate(453.3,351.3) scale(1.12,1)">
<text x="0" y="0" font-family='"Liberation Sans", sans-serif' font-size="10" font-weight="bold" text-anchor="middle" fill="#000" >6</text>
</g>
<g transform="translate(259.5,335.4) scale(1.12,1)">
<text x="0" y="0" font-family='"Liberation Sans", sans-serif' font-size="10" font-weight="bold" text-anchor="end" fill="#000" >0</text>
</g>
<g transform="translate(259.5,298.6) scale(1.12,1)">
<text x="0" y="0" font-family='"Liberation Sans", sans-serif' font-size="10" font-weight="bold" text-anchor="end" fill="#000" >1&#956;</text>
</g>
<g transform="translate(259.5,261.8) scale(1.12,1)">
<text x="0" y="0" font-family='"Liberation Sans", sans-serif' font-size="10" font-weight="bold" text-anchor="end" fill="#000" >2&#956;</text>
</g>
<g transform="translate(259.5,225) scale(1.12,1)">
<text x="0" y="0" font-family='"Liberation Sans", sans-serif' font-size="10" font-weight="bold" text-anchor="end" fill="#000" >3&#956;</text>
</g>
<line x1="264.9" y1="197.2" x2="286.7" y2="197.2" stroke="#24343e" stroke-width="1.4"/>
<circle cx="275.8" cy="197.2" r="1.2" fill="#24343e"/>
<text x="288.8" y="201" font-family='"Liberation Sans", sans-serif' font-size="9.5" xml:space="preserve">V<tspan font-size="6" font-weight="bold" dy="3">G2</tspan><tspan dy="-3"> =  3 V</tspan></text>
<line x1="264.9" y1="211.5" x2="286.7" y2="211.5" stroke="#1f4a5c" stroke-width="1.4"/>
<circle cx="275.8" cy="211.5" r="1.2" fill="#1f4a5c"/>
<text x="288.8" y="215.3" font-family='"Liberation Sans", sans-serif' font-size="9.5" xml:space="preserve">V<tspan font-size="6" font-weight="bold" dy="3">G2</tspan><tspan dy="-3"> =  1 V</tspan></text>
<line x1="264.9" y1="225.6" x2="286.7" y2="225.6" stroke="#1aa6ee" stroke-width="1.4"/>
<circle cx="275.8" cy="225.6" r="1.2" fill="#1aa6ee"/>
<text x="288.8" y="229.4" font-family='"Liberation Sans", sans-serif' font-size="9.5" xml:space="preserve">V<tspan font-size="6" font-weight="bold" dy="3">G2</tspan><tspan dy="-3"> = -1 V</tspan></text>
<line x1="264.9" y1="239.9" x2="286.7" y2="239.9" stroke="#44baf2" stroke-width="1.4"/>
<circle cx="275.8" cy="239.9" r="1.2" fill="#44baf2"/>
<text x="288.8" y="243.7" font-family='"Liberation Sans", sans-serif' font-size="9.5" xml:space="preserve">V<tspan font-size="6" font-weight="bold" dy="3">G2</tspan><tspan dy="-3"> = -3 V</tspan></text>
<text x="404.3" y="199.8" font-family='"Liberation Sans", sans-serif' font-size="11" xml:space="preserve">V<tspan font-size="7.5" dy="3.8">DS</tspan><tspan dy="-3.8"> = 5 V</tspan></text>
<text x="345.4" y="362.5" font-family='"Liberation Sans", sans-serif' font-size="13">V<tspan font-size="8" font-weight="bold" dy="5">GS3</tspan></text>
<g transform="translate(238.8,281) rotate(-90) scale(1,1.15)">
<text x="0" y="0" font-family='"Liberation Sans", sans-serif' font-size="12.5">I<tspan font-size="7.75" font-weight="bold" dy="3.3">DS</tspan><tspan dy="-3.3" xml:space="preserve"> (A)</tspan></text>
</g>
<g transform="translate(238.8,189) scale(1.1,1)">
<text x="0" y="0" font-family='"Liberation Serif", serif' font-size="17" font-weight="bold" text-anchor="start" fill="#000" >e)</text>
</g>
<line x1="503.9" y1="339.2" x2="503.9" y2="336.2" stroke="#333" stroke-width="1"/>
<line x1="503.9" y1="188.2" x2="503.9" y2="191.2" stroke="#333" stroke-width="1"/>
<line x1="558.3" y1="339.2" x2="558.3" y2="336.2" stroke="#333" stroke-width="1"/>
<line x1="558.3" y1="188.2" x2="558.3" y2="191.2" stroke="#333" stroke-width="1"/>
<line x1="585.5" y1="339.2" x2="585.5" y2="336.2" stroke="#333" stroke-width="1"/>
<line x1="585.5" y1="188.2" x2="585.5" y2="191.2" stroke="#333" stroke-width="1"/>
<line x1="612.7" y1="339.2" x2="612.7" y2="336.2" stroke="#333" stroke-width="1"/>
<line x1="612.7" y1="188.2" x2="612.7" y2="191.2" stroke="#333" stroke-width="1"/>
<line x1="667.1" y1="339.2" x2="667.1" y2="336.2" stroke="#333" stroke-width="1"/>
<line x1="667.1" y1="188.2" x2="667.1" y2="191.2" stroke="#333" stroke-width="1"/>
<line x1="531.1" y1="339.2" x2="531.1" y2="337.4" stroke="#333" stroke-width="1"/>
<line x1="531.1" y1="188.2" x2="531.1" y2="190" stroke="#333" stroke-width="1"/>
<line x1="571.9" y1="339.2" x2="571.9" y2="337.4" stroke="#333" stroke-width="1"/>
<line x1="571.9" y1="188.2" x2="571.9" y2="190" stroke="#333" stroke-width="1"/>
<line x1="599.1" y1="339.2" x2="599.1" y2="337.4" stroke="#333" stroke-width="1"/>
<line x1="599.1" y1="188.2" x2="599.1" y2="190" stroke="#333" stroke-width="1"/>
<line x1="639.9" y1="339.2" x2="639.9" y2="337.4" stroke="#333" stroke-width="1"/>
<line x1="639.9" y1="188.2" x2="639.9" y2="190" stroke="#333" stroke-width="1"/>
<line x1="490" y1="329.9" x2="493" y2="329.9" stroke="#333" stroke-width="1"/>
<line x1="681.4" y1="329.9" x2="678.4" y2="329.9" stroke="#333" stroke-width="1"/>
<line x1="490" y1="311" x2="493" y2="311" stroke="#333" stroke-width="1"/>
<line x1="681.4" y1="311" x2="678.4" y2="311" stroke="#333" stroke-width="1"/>
<line x1="490" y1="292.1" x2="493" y2="292.1" stroke="#333" stroke-width="1"/>
<line x1="681.4" y1="292.1" x2="678.4" y2="292.1" stroke="#333" stroke-width="1"/>
<line x1="490" y1="273.1" x2="493" y2="273.1" stroke="#333" stroke-width="1"/>
<line x1="681.4" y1="273.1" x2="678.4" y2="273.1" stroke="#333" stroke-width="1"/>
<line x1="490" y1="254.2" x2="493" y2="254.2" stroke="#333" stroke-width="1"/>
<line x1="681.4" y1="254.2" x2="678.4" y2="254.2" stroke="#333" stroke-width="1"/>
<line x1="490" y1="235.2" x2="493" y2="235.2" stroke="#333" stroke-width="1"/>
<line x1="681.4" y1="235.2" x2="678.4" y2="235.2" stroke="#333" stroke-width="1"/>
<line x1="490" y1="216.3" x2="493" y2="216.3" stroke="#333" stroke-width="1"/>
<line x1="681.4" y1="216.3" x2="678.4" y2="216.3" stroke="#333" stroke-width="1"/>
<line x1="490" y1="197.4" x2="493" y2="197.4" stroke="#333" stroke-width="1"/>
<line x1="681.4" y1="197.4" x2="678.4" y2="197.4" stroke="#333" stroke-width="1"/>
<line x1="490" y1="339.4" x2="491.8" y2="339.4" stroke="#333" stroke-width="1"/>
<line x1="681.4" y1="339.4" x2="679.6" y2="339.4" stroke="#333" stroke-width="1"/>
<line x1="490" y1="320.5" x2="491.8" y2="320.5" stroke="#333" stroke-width="1"/>
<line x1="681.4" y1="320.5" x2="679.6" y2="320.5" stroke="#333" stroke-width="1"/>
<line x1="490" y1="301.5" x2="491.8" y2="301.5" stroke="#333" stroke-width="1"/>
<line x1="681.4" y1="301.5" x2="679.6" y2="301.5" stroke="#333" stroke-width="1"/>
<line x1="490" y1="282.6" x2="491.8" y2="282.6" stroke="#333" stroke-width="1"/>
<line x1="681.4" y1="282.6" x2="679.6" y2="282.6" stroke="#333" stroke-width="1"/>
<line x1="490" y1="263.7" x2="491.8" y2="263.7" stroke="#333" stroke-width="1"/>
<line x1="681.4" y1="263.7" x2="679.6" y2="263.7" stroke="#333" stroke-width="1"/>
<line x1="490" y1="244.7" x2="491.8" y2="244.7" stroke="#333" stroke-width="1"/>
<line x1="681.4" y1="244.7" x2="679.6" y2="244.7" stroke="#333" stroke-width="1"/>
<line x1="490" y1="225.8" x2="491.8" y2="225.8" stroke="#333" stroke-width="1"/>
<line x1="681.4" y1="225.8" x2="679.6" y2="225.8" stroke="#333" stroke-width="1"/>
<line x1="490" y1="206.8" x2="491.8" y2="206.8" stroke="#333" stroke-width="1"/>
<line x1="681.4" y1="206.8" x2="679.6" y2="206.8" stroke="#333" stroke-width="1"/>
<line x1="490" y1="188.2" x2="681.4" y2="188.2" stroke="#555" stroke-width="1.3"/>
<line x1="490" y1="339.2" x2="681.4" y2="339.2" stroke="#222" stroke-width="1.3"/>
<line x1="490" y1="187.6" x2="490" y2="339.8" stroke="#999" stroke-width="1.3"/>
<line x1="681.4" y1="187.6" x2="681.4" y2="339.8" stroke="#333" stroke-width="1.3"/>
<g transform="translate(503.9,351.3) scale(1.12,1)">
<text x="0" y="0" font-family='"Liberation Sans", sans-serif' font-size="10" font-weight="bold" text-anchor="middle" fill="#000" >-3</text>
</g>
<g transform="translate(558.3,351.3) scale(1.12,1)">
<text x="0" y="0" font-family='"Liberation Sans", sans-serif' font-size="10" font-weight="bold" text-anchor="middle" fill="#000" >-1</text>
</g>
<g transform="translate(585.5,351.3) scale(1.12,1)">
<text x="0" y="0" font-family='"Liberation Sans", sans-serif' font-size="10" font-weight="bold" text-anchor="middle" fill="#000" >0</text>
</g>
<g transform="translate(612.7,351.3) scale(1.12,1)">
<text x="0" y="0" font-family='"Liberation Sans", sans-serif' font-size="10" font-weight="bold" text-anchor="middle" fill="#000" >1</text>
</g>
<g transform="translate(667.1,351.3) scale(1.12,1)">
<text x="0" y="0" font-family='"Liberation Sans", sans-serif' font-size="10" font-weight="bold" text-anchor="middle" fill="#000" >3</text>
</g>
<g transform="translate(487,333.5) scale(1.12,1)">
<text x="0" y="0" font-family='"Liberation Sans", sans-serif' font-size="10" font-weight="bold" text-anchor="end" fill="#000" >-12</text>
</g>
<g transform="translate(487,314.6) scale(1.12,1)">
<text x="0" y="0" font-family='"Liberation Sans", sans-serif' font-size="10" font-weight="bold" text-anchor="end" fill="#000" >-10</text>
</g>
<g transform="translate(487,295.7) scale(1.12,1)">
<text x="0" y="0" font-family='"Liberation Sans", sans-serif' font-size="10" font-weight="bold" text-anchor="end" fill="#000" >-8</text>
</g>
<g transform="translate(487,276.7) scale(1.12,1)">
<text x="0" y="0" font-family='"Liberation Sans", sans-serif' font-size="10" font-weight="bold" text-anchor="end" fill="#000" >-6</text>
</g>
<g transform="translate(487,257.8) scale(1.12,1)">
<text x="0" y="0" font-family='"Liberation Sans", sans-serif' font-size="10" font-weight="bold" text-anchor="end" fill="#000" >-4</text>
</g>
<g transform="translate(487,238.8) scale(1.12,1)">
<text x="0" y="0" font-family='"Liberation Sans", sans-serif' font-size="10" font-weight="bold" text-anchor="end" fill="#000" >-2</text>
</g>
<g transform="translate(487,219.9) scale(1.12,1)">
<text x="0" y="0" font-family='"Liberation Sans", sans-serif' font-size="10" font-weight="bold" text-anchor="end" fill="#000" >0</text>
</g>
<g transform="translate(487,201) scale(1.12,1)">
<text x="0" y="0" font-family='"Liberation Sans", sans-serif' font-size="10" font-weight="bold" text-anchor="end" fill="#000" >2</text>
</g>
<path d="M503.5 252.4 L558.1 259.4 L613.2 287.3 L667.7 328.4" fill="none" stroke="#1eaaf0" stroke-width="1.8" stroke-linejoin="round" stroke-linecap="round" />
<circle cx="503.5" cy="252.4" r="1.9" fill="#1eaaf0" fill-opacity="0.6" stroke="#1eaaf0" stroke-width="0.9"/>
<circle cx="558.1" cy="259.4" r="1.9" fill="#1eaaf0" fill-opacity="0.6" stroke="#1eaaf0" stroke-width="0.9"/>
<circle cx="613.2" cy="287.3" r="1.9" fill="#1eaaf0" fill-opacity="0.6" stroke="#1eaaf0" stroke-width="0.9"/>
<circle cx="667.7" cy="328.4" r="1.9" fill="#1eaaf0" fill-opacity="0.6" stroke="#1eaaf0" stroke-width="0.9"/>
<path d="M503.5 227.8 L558.1 227 L613.2 232.7 L667.7 267.6" fill="none" stroke="#22cc22" stroke-width="1.8" stroke-linejoin="round" stroke-linecap="round" />
<circle cx="503.5" cy="227.8" r="1.9" fill="#22cc22" fill-opacity="0.6" stroke="#22cc22" stroke-width="0.9"/>
<circle cx="558.1" cy="227" r="1.9" fill="#22cc22" fill-opacity="0.6" stroke="#22cc22" stroke-width="0.9"/>
<circle cx="613.2" cy="232.7" r="1.9" fill="#22cc22" fill-opacity="0.6" stroke="#22cc22" stroke-width="0.9"/>
<circle cx="667.7" cy="267.6" r="1.9" fill="#22cc22" fill-opacity="0.6" stroke="#22cc22" stroke-width="0.9"/>
<path d="M503.5 220.4 L558.1 224.1 L613.2 236 L667.7 257" fill="none" stroke="#ff1a1a" stroke-width="1.8" stroke-linejoin="round" stroke-linecap="round" />
<circle cx="503.5" cy="220.4" r="1.9" fill="#ff1a1a" fill-opacity="0.6" stroke="#ff1a1a" stroke-width="0.9"/>
<circle cx="558.1" cy="224.1" r="1.9" fill="#ff1a1a" fill-opacity="0.6" stroke="#ff1a1a" stroke-width="0.9"/>
<circle cx="613.2" cy="236" r="1.9" fill="#ff1a1a" fill-opacity="0.6" stroke="#ff1a1a" stroke-width="0.9"/>
<circle cx="667.7" cy="257" r="1.9" fill="#ff1a1a" fill-opacity="0.6" stroke="#ff1a1a" stroke-width="0.9"/>
<path d="M503.5 200.3 L558.1 216.7 L613.2 241.4 L667.7 276.3" fill="none" stroke="#3a1a1a" stroke-width="1.8" stroke-linejoin="round" stroke-linecap="round" />
<circle cx="503.5" cy="200.3" r="1.9" fill="#3a1a1a" fill-opacity="0.6" stroke="#3a1a1a" stroke-width="0.9"/>
<circle cx="558.1" cy="216.7" r="1.9" fill="#3a1a1a" fill-opacity="0.6" stroke="#3a1a1a" stroke-width="0.9"/>
<circle cx="613.2" cy="241.4" r="1.9" fill="#3a1a1a" fill-opacity="0.6" stroke="#3a1a1a" stroke-width="0.9"/>
<circle cx="667.7" cy="276.3" r="1.9" fill="#3a1a1a" fill-opacity="0.6" stroke="#3a1a1a" stroke-width="0.9"/>
<line x1="495.7" y1="288.6" x2="515.9" y2="288.6" stroke="#22cc22" stroke-width="1.5"/>
<circle cx="505.4" cy="288.6" r="1.7" fill="#22cc22" fill-opacity="0.4" stroke="#22cc22" stroke-width="1"/>
<text x="518.4" y="291.8" font-family='"Liberation Sans", sans-serif' font-size="8.5" xml:space="preserve">V<tspan font-size="5.5" font-weight="bold" dy="2.5">TH01</tspan><tspan dy="-2.5"> (V</tspan><tspan font-size="5.5" font-weight="bold" dy="2.5">G2</tspan><tspan dy="-2.5">)</tspan></text>
<line x1="495.7" y1="302.1" x2="515.9" y2="302.1" stroke="#3a1a1a" stroke-width="1.5"/>
<circle cx="505.4" cy="302.1" r="1.7" fill="#3a1a1a" fill-opacity="0.4" stroke="#3a1a1a" stroke-width="1"/>
<text x="518.4" y="305.3" font-family='"Liberation Sans", sans-serif' font-size="8.5" xml:space="preserve">V<tspan font-size="5.5" font-weight="bold" dy="2.5">TH02</tspan><tspan dy="-2.5"> (V</tspan><tspan font-size="5.5" font-weight="bold" dy="2.5">G1</tspan><tspan dy="-2.5">)</tspan></text>
<line x1="495.7" y1="315.7" x2="515.9" y2="315.7" stroke="#ff1a1a" stroke-width="1.5"/>
<circle cx="505.4" cy="315.7" r="1.7" fill="#ff1a1a" fill-opacity="0.4" stroke="#ff1a1a" stroke-width="1"/>
<text x="518.4" y="318.9" font-family='"Liberation Sans", sans-serif' font-size="8.5" xml:space="preserve">V<tspan font-size="5.5" font-weight="bold" dy="2.5">TH02</tspan><tspan dy="-2.5"> (V</tspan><tspan font-size="5.5" font-weight="bold" dy="2.5">G3</tspan><tspan dy="-2.5">)</tspan></text>
<line x1="495.7" y1="328.8" x2="515.9" y2="328.8" stroke="#1eaaf0" stroke-width="1.5"/>
<circle cx="505.4" cy="328.8" r="1.7" fill="#1eaaf0" fill-opacity="0.4" stroke="#1eaaf0" stroke-width="1"/>
<text x="518.4" y="332" font-family='"Liberation Sans", sans-serif' font-size="8.5" xml:space="preserve">V<tspan font-size="5.5" font-weight="bold" dy="2.5">TH03</tspan><tspan dy="-2.5"> (V</tspan><tspan font-size="5.5" font-weight="bold" dy="2.5">G2</tspan><tspan dy="-2.5">)</tspan></text>
<text x="567.9" y="365.2" font-family='"Liberation Sans", sans-serif' font-size="13">V<tspan font-size="8" font-weight="bold" dy="3">Gn</tspan><tspan dy="-3" xml:space="preserve"> (V)</tspan></text>
<g transform="translate(469.4,287.5) rotate(-90) scale(1,1.06)">
<text x="0" y="0" font-family='"Liberation Sans", sans-serif' font-size="13.5">V<tspan font-size="8.3" dy="3.3">TH</tspan><tspan dy="-3.3" xml:space="preserve"> (V)</tspan></text>
</g>
<g transform="translate(464,190.5) scale(1.1,1)">
<text x="0" y="0" font-family='"Liberation Serif", serif' font-size="17" font-weight="bold" text-anchor="start" fill="#000" >f)</text>
</g>
</svg></body></html>
